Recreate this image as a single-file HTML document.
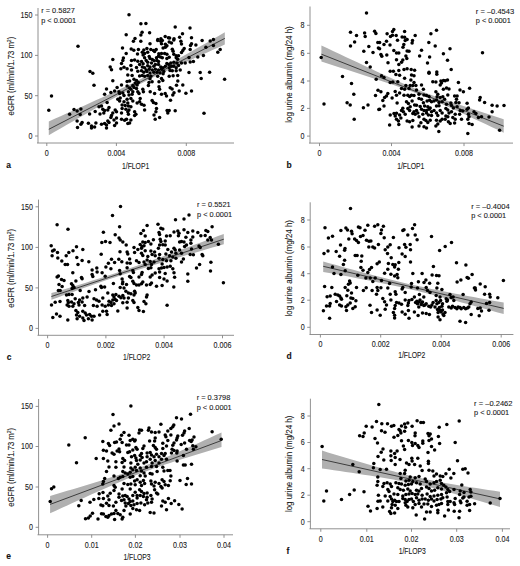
<!DOCTYPE html><html><head><meta charset="utf-8"><style>html,body{margin:0;padding:0;background:#fff;}svg{display:block} text{stroke:#1a1a1a;stroke-width:0.1px;paint-order:stroke}</style></head><body>
<svg width="520" height="566" viewBox="0 0 520 566" font-family='"Liberation Sans", sans-serif'>
<rect width="520" height="566" fill="#fff"/>
<g id="pa">
<path d="M48.80,121.40 L54.67,118.79 L60.53,116.17 L66.40,113.55 L72.27,110.93 L78.13,108.30 L84.00,105.66 L89.87,103.02 L95.73,100.36 L101.60,97.69 L107.47,95.00 L113.33,92.29 L119.20,89.55 L125.07,86.76 L130.93,83.93 L136.80,81.04 L142.67,78.08 L148.53,75.05 L154.40,71.95 L160.27,68.79 L166.13,65.58 L172.00,62.33 L177.87,59.05 L183.73,55.75 L189.60,52.43 L195.47,49.09 L201.33,45.75 L207.20,42.40 L213.07,39.04 L218.93,35.67 L224.80,32.30 L224.80,44.60 L218.93,47.22 L213.07,49.84 L207.20,52.47 L201.33,55.11 L195.47,57.76 L189.60,60.41 L183.73,63.08 L177.87,65.77 L172.00,68.48 L166.13,71.22 L160.27,74.00 L154.40,76.83 L148.53,79.72 L142.67,82.68 L136.80,85.71 L130.93,88.81 L125.07,91.97 L119.20,95.17 L113.33,98.42 L107.47,101.70 L101.60,105.00 L95.73,108.32 L89.87,111.65 L84.00,115.00 L78.13,118.35 L72.27,121.71 L66.40,125.08 L60.53,128.45 L54.67,131.82 L48.80,135.20Z" fill="#b0b0b0"/>
<line x1="48.8" y1="129.3" x2="224.8" y2="38.4" stroke="#303030" stroke-width="0.9"/>
<path d="M38,8 V143 M37,143 H234" stroke="#858585" stroke-width="0.9" fill="none"/>
<line x1="35" y1="136" x2="38" y2="136" stroke="#858585" stroke-width="0.9"/>
<text transform="translate(32.4,138.9) scale(0.83,1)" font-size="8.6" fill="#1a1a1a" text-anchor="end">0</text>
<line x1="35" y1="95.7" x2="38" y2="95.7" stroke="#858585" stroke-width="0.9"/>
<text transform="translate(32.4,98.60000000000001) scale(0.83,1)" font-size="8.6" fill="#1a1a1a" text-anchor="end">50</text>
<line x1="35" y1="55.4" x2="38" y2="55.4" stroke="#858585" stroke-width="0.9"/>
<text transform="translate(32.4,58.3) scale(0.83,1)" font-size="8.6" fill="#1a1a1a" text-anchor="end">100</text>
<line x1="35" y1="15" x2="38" y2="15" stroke="#858585" stroke-width="0.9"/>
<text transform="translate(32.4,17.9) scale(0.83,1)" font-size="8.6" fill="#1a1a1a" text-anchor="end">150</text>
<line x1="46.8" y1="143" x2="46.8" y2="146" stroke="#858585" stroke-width="0.9"/>
<text transform="translate(46.8,155.9) scale(0.83,1)" font-size="8.6" fill="#1a1a1a" text-anchor="middle">0</text>
<line x1="116.4" y1="143" x2="116.4" y2="146" stroke="#858585" stroke-width="0.9"/>
<text transform="translate(116.4,155.9) scale(0.83,1)" font-size="8.6" fill="#1a1a1a" text-anchor="middle">0.004</text>
<line x1="186.3" y1="143" x2="186.3" y2="146" stroke="#858585" stroke-width="0.9"/>
<text transform="translate(186.3,155.9) scale(0.83,1)" font-size="8.6" fill="#1a1a1a" text-anchor="middle">0.008</text>
<text x="122.0" y="168.6" font-size="8.2" fill="#1a1a1a" textLength="27.2" lengthAdjust="spacingAndGlyphs">1/FLOP1</text>
<text x="6.3" y="167.8" font-size="8.5" font-weight="bold" fill="#111">a</text>
<text transform="translate(13.8,115.6) rotate(-90)" font-size="8.3" fill="#1a1a1a" textLength="78.8" lengthAdjust="spacingAndGlyphs">eGFR (ml/min/1.73 m<tspan font-size="5.5" dy="-3">2</tspan><tspan dy="3">)</tspan></text>
<text x="41.2" y="13.4" font-size="7.3" fill="#1a1a1a" textLength="33.6" lengthAdjust="spacingAndGlyphs">r = 0.5827</text>
<text x="41.2" y="23.2" font-size="7.3" fill="#1a1a1a" textLength="35" lengthAdjust="spacingAndGlyphs">p &lt; 0.0001</text>
<g fill="#000"><circle cx="78.0" cy="46.2" r="1.75"/><circle cx="129.0" cy="14.8" r="1.75"/><circle cx="140.9" cy="23.8" r="1.75"/><circle cx="145.9" cy="23.5" r="1.75"/><circle cx="149.6" cy="32.8" r="1.75"/><circle cx="142.1" cy="32.2" r="1.75"/><circle cx="140.9" cy="35.0" r="1.75"/><circle cx="126.2" cy="34.8" r="1.75"/><circle cx="135.0" cy="38.5" r="1.75"/><circle cx="133.4" cy="41.2" r="1.75"/><circle cx="157.8" cy="39.4" r="1.75"/><circle cx="160.9" cy="38.8" r="1.75"/><circle cx="165.2" cy="36.5" r="1.75"/><circle cx="122.5" cy="48.1" r="1.75"/><circle cx="131.2" cy="49.0" r="1.75"/><circle cx="133.8" cy="50.2" r="1.75"/><circle cx="138.4" cy="49.4" r="1.75"/><circle cx="126.2" cy="53.5" r="1.75"/><circle cx="137.5" cy="54.0" r="1.75"/><circle cx="168.4" cy="37.8" r="1.75"/><circle cx="112.8" cy="59.4" r="1.75"/><circle cx="123.4" cy="58.1" r="1.75"/><circle cx="122.8" cy="60.6" r="1.75"/><circle cx="121.5" cy="63.5" r="1.75"/><circle cx="110.2" cy="66.9" r="1.75"/><circle cx="111.5" cy="69.8" r="1.75"/><circle cx="120.9" cy="68.8" r="1.75"/><circle cx="124.0" cy="67.2" r="1.75"/><circle cx="127.1" cy="68.8" r="1.75"/><circle cx="131.5" cy="60.6" r="1.75"/><circle cx="134.6" cy="60.0" r="1.75"/><circle cx="130.9" cy="65.6" r="1.75"/><circle cx="131.5" cy="70.0" r="1.75"/><circle cx="137.8" cy="61.2" r="1.75"/><circle cx="139.6" cy="64.4" r="1.75"/><circle cx="136.5" cy="67.5" r="1.75"/><circle cx="137.8" cy="71.2" r="1.75"/><circle cx="175.2" cy="26.9" r="1.75"/><circle cx="190.0" cy="27.9" r="1.75"/><circle cx="182.5" cy="33.8" r="1.75"/><circle cx="179.6" cy="37.2" r="1.75"/><circle cx="174.0" cy="38.8" r="1.75"/><circle cx="169.6" cy="38.1" r="1.75"/><circle cx="191.5" cy="37.8" r="1.75"/><circle cx="202.1" cy="40.6" r="1.75"/><circle cx="210.2" cy="41.0" r="1.75"/><circle cx="213.4" cy="39.4" r="1.75"/><circle cx="180.9" cy="41.2" r="1.75"/><circle cx="181.5" cy="44.0" r="1.75"/><circle cx="191.5" cy="43.8" r="1.75"/><circle cx="190.5" cy="45.6" r="1.75"/><circle cx="195.9" cy="45.0" r="1.75"/><circle cx="205.9" cy="47.2" r="1.75"/><circle cx="213.4" cy="45.6" r="1.75"/><circle cx="184.2" cy="48.5" r="1.75"/><circle cx="182.8" cy="50.6" r="1.75"/><circle cx="181.5" cy="52.5" r="1.75"/><circle cx="190.2" cy="49.4" r="1.75"/><circle cx="220.2" cy="49.4" r="1.75"/><circle cx="217.8" cy="52.2" r="1.75"/><circle cx="203.4" cy="55.6" r="1.75"/><circle cx="197.8" cy="56.9" r="1.75"/><circle cx="189.0" cy="57.5" r="1.75"/><circle cx="190.2" cy="61.9" r="1.75"/><circle cx="193.4" cy="61.5" r="1.75"/><circle cx="185.2" cy="63.1" r="1.75"/><circle cx="181.5" cy="63.1" r="1.75"/><circle cx="180.2" cy="70.0" r="1.75"/><circle cx="189.0" cy="72.5" r="1.75"/><circle cx="200.2" cy="72.5" r="1.75"/><circle cx="209.6" cy="72.2" r="1.75"/><circle cx="92.8" cy="73.2" r="1.75"/><circle cx="94.0" cy="85.2" r="1.75"/><circle cx="51.5" cy="96.1" r="1.75"/><circle cx="48.8" cy="110.2" r="1.75"/><circle cx="74.0" cy="109.5" r="1.75"/><circle cx="77.1" cy="111.1" r="1.75"/><circle cx="80.9" cy="109.0" r="1.75"/><circle cx="69.6" cy="114.2" r="1.75"/><circle cx="80.2" cy="114.5" r="1.75"/><circle cx="89.6" cy="114.0" r="1.75"/><circle cx="95.2" cy="111.5" r="1.75"/><circle cx="100.0" cy="114.0" r="1.75"/><circle cx="99.0" cy="106.8" r="1.75"/><circle cx="101.5" cy="106.1" r="1.75"/><circle cx="102.8" cy="109.2" r="1.75"/><circle cx="77.1" cy="121.1" r="1.75"/><circle cx="82.1" cy="122.4" r="1.75"/><circle cx="80.9" cy="124.2" r="1.75"/><circle cx="88.4" cy="123.2" r="1.75"/><circle cx="95.9" cy="123.0" r="1.75"/><circle cx="91.5" cy="126.1" r="1.75"/><circle cx="94.6" cy="127.0" r="1.75"/><circle cx="91.5" cy="128.0" r="1.75"/><circle cx="77.5" cy="127.4" r="1.75"/><circle cx="101.5" cy="124.2" r="1.75"/><circle cx="103.8" cy="113.0" r="1.75"/><circle cx="127.8" cy="74.9" r="1.75"/><circle cx="132.1" cy="75.5" r="1.75"/><circle cx="139.6" cy="76.1" r="1.75"/><circle cx="112.8" cy="80.8" r="1.75"/><circle cx="127.1" cy="81.5" r="1.75"/><circle cx="129.6" cy="81.1" r="1.75"/><circle cx="134.0" cy="79.2" r="1.75"/><circle cx="136.5" cy="80.5" r="1.75"/><circle cx="162.8" cy="80.5" r="1.75"/><circle cx="159.0" cy="81.8" r="1.75"/><circle cx="135.2" cy="83.0" r="1.75"/><circle cx="138.4" cy="82.4" r="1.75"/><circle cx="137.1" cy="84.9" r="1.75"/><circle cx="132.8" cy="85.5" r="1.75"/><circle cx="149.0" cy="82.4" r="1.75"/><circle cx="152.1" cy="81.8" r="1.75"/><circle cx="148.4" cy="85.5" r="1.75"/><circle cx="106.5" cy="89.0" r="1.75"/><circle cx="117.1" cy="87.4" r="1.75"/><circle cx="121.5" cy="84.9" r="1.75"/><circle cx="127.1" cy="86.1" r="1.75"/><circle cx="129.6" cy="88.0" r="1.75"/><circle cx="130.9" cy="89.2" r="1.75"/><circle cx="134.0" cy="87.4" r="1.75"/><circle cx="136.5" cy="88.6" r="1.75"/><circle cx="142.8" cy="89.2" r="1.75"/><circle cx="159.0" cy="86.8" r="1.75"/><circle cx="159.6" cy="89.2" r="1.75"/><circle cx="104.6" cy="94.2" r="1.75"/><circle cx="110.9" cy="92.4" r="1.75"/><circle cx="114.6" cy="91.1" r="1.75"/><circle cx="119.0" cy="91.8" r="1.75"/><circle cx="119.6" cy="93.6" r="1.75"/><circle cx="122.8" cy="93.0" r="1.75"/><circle cx="124.0" cy="95.5" r="1.75"/><circle cx="128.4" cy="91.8" r="1.75"/><circle cx="132.8" cy="91.8" r="1.75"/><circle cx="132.1" cy="94.2" r="1.75"/><circle cx="129.0" cy="94.9" r="1.75"/><circle cx="137.8" cy="91.8" r="1.75"/><circle cx="139.0" cy="93.6" r="1.75"/><circle cx="143.4" cy="91.8" r="1.75"/><circle cx="150.2" cy="91.8" r="1.75"/><circle cx="154.6" cy="93.6" r="1.75"/><circle cx="161.5" cy="94.2" r="1.75"/><circle cx="165.2" cy="93.6" r="1.75"/><circle cx="166.5" cy="96.1" r="1.75"/><circle cx="107.1" cy="102.4" r="1.75"/><circle cx="117.8" cy="99.2" r="1.75"/><circle cx="120.2" cy="98.0" r="1.75"/><circle cx="119.6" cy="101.1" r="1.75"/><circle cx="124.0" cy="101.8" r="1.75"/><circle cx="127.1" cy="99.2" r="1.75"/><circle cx="130.9" cy="98.6" r="1.75"/><circle cx="132.8" cy="101.1" r="1.75"/><circle cx="127.8" cy="103.0" r="1.75"/><circle cx="122.1" cy="104.9" r="1.75"/><circle cx="125.2" cy="105.5" r="1.75"/><circle cx="128.4" cy="106.1" r="1.75"/><circle cx="137.1" cy="103.0" r="1.75"/><circle cx="139.6" cy="101.8" r="1.75"/><circle cx="140.2" cy="98.6" r="1.75"/><circle cx="141.5" cy="104.2" r="1.75"/><circle cx="144.0" cy="105.2" r="1.75"/><circle cx="152.1" cy="100.5" r="1.75"/><circle cx="153.4" cy="102.4" r="1.75"/><circle cx="155.9" cy="103.6" r="1.75"/><circle cx="109.0" cy="107.4" r="1.75"/><circle cx="107.8" cy="109.9" r="1.75"/><circle cx="104.6" cy="110.5" r="1.75"/><circle cx="115.2" cy="109.9" r="1.75"/><circle cx="112.8" cy="113.0" r="1.75"/><circle cx="116.5" cy="111.8" r="1.75"/><circle cx="122.1" cy="108.6" r="1.75"/><circle cx="121.5" cy="113.0" r="1.75"/><circle cx="125.9" cy="109.2" r="1.75"/><circle cx="129.0" cy="109.9" r="1.75"/><circle cx="130.9" cy="106.8" r="1.75"/><circle cx="127.8" cy="111.8" r="1.75"/><circle cx="134.6" cy="111.8" r="1.75"/><circle cx="135.9" cy="114.2" r="1.75"/><circle cx="144.6" cy="109.9" r="1.75"/><circle cx="156.5" cy="108.6" r="1.75"/><circle cx="155.9" cy="111.8" r="1.75"/><circle cx="167.1" cy="110.5" r="1.75"/><circle cx="167.8" cy="113.0" r="1.75"/><circle cx="111.5" cy="115.5" r="1.75"/><circle cx="110.9" cy="117.4" r="1.75"/><circle cx="114.0" cy="119.9" r="1.75"/><circle cx="116.5" cy="118.0" r="1.75"/><circle cx="121.5" cy="119.2" r="1.75"/><circle cx="124.6" cy="120.2" r="1.75"/><circle cx="126.5" cy="119.2" r="1.75"/><circle cx="130.9" cy="119.9" r="1.75"/><circle cx="134.6" cy="115.5" r="1.75"/><circle cx="128.4" cy="114.2" r="1.75"/><circle cx="154.0" cy="114.9" r="1.75"/><circle cx="155.2" cy="119.2" r="1.75"/><circle cx="159.6" cy="117.4" r="1.75"/><circle cx="107.8" cy="121.1" r="1.75"/><circle cx="109.0" cy="122.4" r="1.75"/><circle cx="104.6" cy="123.6" r="1.75"/><circle cx="106.5" cy="124.9" r="1.75"/><circle cx="116.5" cy="123.0" r="1.75"/><circle cx="114.6" cy="125.5" r="1.75"/><circle cx="127.8" cy="123.6" r="1.75"/><circle cx="129.6" cy="123.0" r="1.75"/><circle cx="106.5" cy="128.0" r="1.75"/><circle cx="201.2" cy="78.6" r="1.75"/><circle cx="224.6" cy="79.2" r="1.75"/><circle cx="177.8" cy="81.1" r="1.75"/><circle cx="176.5" cy="85.2" r="1.75"/><circle cx="182.8" cy="84.9" r="1.75"/><circle cx="170.2" cy="87.8" r="1.75"/><circle cx="172.1" cy="89.0" r="1.75"/><circle cx="179.2" cy="91.1" r="1.75"/><circle cx="174.0" cy="92.8" r="1.75"/><circle cx="172.8" cy="94.9" r="1.75"/><circle cx="185.9" cy="93.2" r="1.75"/><circle cx="191.5" cy="90.9" r="1.75"/><circle cx="170.5" cy="100.2" r="1.75"/><circle cx="169.2" cy="110.5" r="1.75"/><circle cx="175.2" cy="110.8" r="1.75"/><circle cx="204.0" cy="113.2" r="1.75"/><circle cx="90.0" cy="71.5" r="1.75"/><circle cx="140.8" cy="41.2" r="1.75"/><circle cx="157.7" cy="40.4" r="1.75"/><circle cx="160.8" cy="41.2" r="1.75"/><circle cx="162.3" cy="40.4" r="1.75"/><circle cx="169.2" cy="41.9" r="1.75"/><circle cx="171.5" cy="43.1" r="1.75"/><circle cx="150.0" cy="43.8" r="1.75"/><circle cx="161.5" cy="43.8" r="1.75"/><circle cx="165.4" cy="44.2" r="1.75"/><circle cx="166.9" cy="45.8" r="1.75"/><circle cx="163.1" cy="48.1" r="1.75"/><circle cx="165.4" cy="47.3" r="1.75"/><circle cx="173.8" cy="40.0" r="1.75"/><circle cx="143.8" cy="50.0" r="1.75"/><circle cx="146.9" cy="48.5" r="1.75"/><circle cx="150.8" cy="49.6" r="1.75"/><circle cx="153.5" cy="50.4" r="1.75"/><circle cx="156.2" cy="49.6" r="1.75"/><circle cx="142.3" cy="52.3" r="1.75"/><circle cx="144.6" cy="53.5" r="1.75"/><circle cx="147.7" cy="52.3" r="1.75"/><circle cx="154.6" cy="51.5" r="1.75"/><circle cx="172.3" cy="49.2" r="1.75"/><circle cx="173.1" cy="51.2" r="1.75"/><circle cx="158.8" cy="53.8" r="1.75"/><circle cx="161.5" cy="53.5" r="1.75"/><circle cx="164.6" cy="53.5" r="1.75"/><circle cx="166.9" cy="54.2" r="1.75"/><circle cx="173.8" cy="54.2" r="1.75"/><circle cx="176.2" cy="55.8" r="1.75"/><circle cx="178.5" cy="55.8" r="1.75"/><circle cx="143.1" cy="55.0" r="1.75"/><circle cx="149.2" cy="56.5" r="1.75"/><circle cx="144.6" cy="57.7" r="1.75"/><circle cx="150.0" cy="58.5" r="1.75"/><circle cx="156.5" cy="57.7" r="1.75"/><circle cx="158.5" cy="56.2" r="1.75"/><circle cx="160.4" cy="56.9" r="1.75"/><circle cx="162.3" cy="57.7" r="1.75"/><circle cx="169.2" cy="57.3" r="1.75"/><circle cx="166.9" cy="58.5" r="1.75"/><circle cx="176.2" cy="57.7" r="1.75"/><circle cx="177.7" cy="59.2" r="1.75"/><circle cx="141.5" cy="61.5" r="1.75"/><circle cx="146.2" cy="60.4" r="1.75"/><circle cx="147.7" cy="62.3" r="1.75"/><circle cx="152.3" cy="59.6" r="1.75"/><circle cx="154.2" cy="60.8" r="1.75"/><circle cx="156.9" cy="60.4" r="1.75"/><circle cx="158.5" cy="61.5" r="1.75"/><circle cx="151.5" cy="63.1" r="1.75"/><circle cx="166.9" cy="63.5" r="1.75"/><circle cx="168.8" cy="64.6" r="1.75"/><circle cx="170.8" cy="63.1" r="1.75"/><circle cx="173.8" cy="62.3" r="1.75"/><circle cx="176.9" cy="63.1" r="1.75"/><circle cx="143.1" cy="63.8" r="1.75"/><circle cx="142.3" cy="66.9" r="1.75"/><circle cx="144.6" cy="67.7" r="1.75"/><circle cx="147.7" cy="65.8" r="1.75"/><circle cx="150.0" cy="66.9" r="1.75"/><circle cx="153.8" cy="66.2" r="1.75"/><circle cx="155.4" cy="64.6" r="1.75"/><circle cx="158.5" cy="64.6" r="1.75"/><circle cx="160.8" cy="66.9" r="1.75"/><circle cx="163.1" cy="67.7" r="1.75"/><circle cx="165.4" cy="66.2" r="1.75"/><circle cx="169.2" cy="67.7" r="1.75"/><circle cx="171.5" cy="66.2" r="1.75"/><circle cx="173.8" cy="66.2" r="1.75"/><circle cx="176.2" cy="67.7" r="1.75"/><circle cx="178.5" cy="65.4" r="1.75"/><circle cx="141.5" cy="70.8" r="1.75"/><circle cx="146.2" cy="70.0" r="1.75"/><circle cx="149.2" cy="69.2" r="1.75"/><circle cx="152.3" cy="70.0" r="1.75"/><circle cx="155.4" cy="69.2" r="1.75"/><circle cx="158.5" cy="70.0" r="1.75"/><circle cx="161.5" cy="69.2" r="1.75"/><circle cx="163.8" cy="71.5" r="1.75"/><circle cx="170.0" cy="70.4" r="1.75"/><circle cx="172.3" cy="70.8" r="1.75"/><circle cx="176.2" cy="70.8" r="1.75"/><circle cx="143.8" cy="72.3" r="1.75"/><circle cx="146.9" cy="71.5" r="1.75"/><circle cx="150.0" cy="73.1" r="1.75"/><circle cx="153.8" cy="72.3" r="1.75"/><circle cx="156.9" cy="72.3" r="1.75"/><circle cx="160.0" cy="73.1" r="1.75"/><circle cx="163.1" cy="73.8" r="1.75"/><circle cx="147.7" cy="75.4" r="1.75"/><circle cx="150.8" cy="76.2" r="1.75"/><circle cx="144.6" cy="76.2" r="1.75"/><circle cx="142.3" cy="75.4" r="1.75"/><circle cx="169.2" cy="76.2" r="1.75"/><circle cx="173.1" cy="75.8" r="1.75"/><circle cx="177.7" cy="75.4" r="1.75"/><circle cx="150.0" cy="78.8" r="1.75"/><circle cx="157.7" cy="76.2" r="1.75"/><circle cx="161.5" cy="78.5" r="1.75"/></g>
</g>
<g id="pb">
<path d="M321.40,45.40 L327.48,48.28 L333.55,51.15 L339.63,54.02 L345.71,56.89 L351.78,59.75 L357.86,62.61 L363.94,65.47 L370.01,68.31 L376.09,71.15 L382.17,73.97 L388.24,76.77 L394.32,79.55 L400.40,82.29 L406.47,84.98 L412.55,87.59 L418.63,90.11 L424.70,92.51 L430.78,94.81 L436.86,97.02 L442.93,99.16 L449.01,101.25 L455.09,103.30 L461.16,105.32 L467.24,107.33 L473.32,109.33 L479.39,111.32 L485.47,113.29 L491.55,115.27 L497.62,117.24 L503.70,119.20 L503.70,132.70 L497.62,129.83 L491.55,126.97 L485.47,124.11 L479.39,121.25 L473.32,118.40 L467.24,115.57 L461.16,112.74 L455.09,109.94 L449.01,107.15 L442.93,104.41 L436.86,101.71 L430.78,99.09 L424.70,96.55 L418.63,94.13 L412.55,91.81 L406.47,89.59 L400.40,87.44 L394.32,85.35 L388.24,83.29 L382.17,81.26 L376.09,79.25 L370.01,77.25 L363.94,75.27 L357.86,73.29 L351.78,71.31 L345.71,69.34 L339.63,67.38 L333.55,65.42 L327.48,63.46 L321.40,61.50Z" fill="#b0b0b0"/>
<line x1="321.4" y1="54.2" x2="503.7" y2="126.2" stroke="#303030" stroke-width="0.9"/>
<path d="M310,6.5 V143.1 M309,143.1 H513" stroke="#858585" stroke-width="0.9" fill="none"/>
<line x1="307" y1="136.1" x2="310" y2="136.1" stroke="#858585" stroke-width="0.9"/>
<text transform="translate(304.4,139.0) scale(0.83,1)" font-size="8.6" fill="#1a1a1a" text-anchor="end">0</text>
<line x1="307" y1="108.4" x2="310" y2="108.4" stroke="#858585" stroke-width="0.9"/>
<text transform="translate(304.4,111.30000000000001) scale(0.83,1)" font-size="8.6" fill="#1a1a1a" text-anchor="end">2</text>
<line x1="307" y1="81" x2="310" y2="81" stroke="#858585" stroke-width="0.9"/>
<text transform="translate(304.4,83.9) scale(0.83,1)" font-size="8.6" fill="#1a1a1a" text-anchor="end">4</text>
<line x1="307" y1="53.3" x2="310" y2="53.3" stroke="#858585" stroke-width="0.9"/>
<text transform="translate(304.4,56.199999999999996) scale(0.83,1)" font-size="8.6" fill="#1a1a1a" text-anchor="end">6</text>
<line x1="307" y1="25.3" x2="310" y2="25.3" stroke="#858585" stroke-width="0.9"/>
<text transform="translate(304.4,28.2) scale(0.83,1)" font-size="8.6" fill="#1a1a1a" text-anchor="end">8</text>
<line x1="319.5" y1="143.1" x2="319.5" y2="146.1" stroke="#858585" stroke-width="0.9"/>
<text transform="translate(319.5,156.0) scale(0.83,1)" font-size="8.6" fill="#1a1a1a" text-anchor="middle">0</text>
<line x1="391.5" y1="143.1" x2="391.5" y2="146.1" stroke="#858585" stroke-width="0.9"/>
<text transform="translate(391.5,156.0) scale(0.83,1)" font-size="8.6" fill="#1a1a1a" text-anchor="middle">0.004</text>
<line x1="464" y1="143.1" x2="464" y2="146.1" stroke="#858585" stroke-width="0.9"/>
<text transform="translate(464,156.0) scale(0.83,1)" font-size="8.6" fill="#1a1a1a" text-anchor="middle">0.008</text>
<text x="397.2" y="168.6" font-size="8.2" fill="#1a1a1a" textLength="27.2" lengthAdjust="spacingAndGlyphs">1/FLOP1</text>
<text x="286.5" y="167.8" font-size="8.5" font-weight="bold" fill="#111">b</text>
<text transform="translate(291.7,122.7) rotate(-90)" font-size="8.3" fill="#1a1a1a" textLength="96.4" lengthAdjust="spacingAndGlyphs">log urine albumin (mg/24 h)</text>
<text x="475.8" y="13.5" font-size="7.3" fill="#1a1a1a" textLength="38.4" lengthAdjust="spacingAndGlyphs">r = –0.4543</text>
<text x="475.8" y="23.3" font-size="7.3" fill="#1a1a1a" textLength="35" lengthAdjust="spacingAndGlyphs">p &lt; 0.0001</text>
<g fill="#000"><circle cx="366.5" cy="13.1" r="1.75"/><circle cx="350.5" cy="32.2" r="1.75"/><circle cx="356.5" cy="35.6" r="1.75"/><circle cx="364.6" cy="33.1" r="1.75"/><circle cx="365.2" cy="36.5" r="1.75"/><circle cx="374.6" cy="31.2" r="1.75"/><circle cx="375.9" cy="33.5" r="1.75"/><circle cx="354.6" cy="41.9" r="1.75"/><circle cx="350.5" cy="46.0" r="1.75"/><circle cx="368.8" cy="46.5" r="1.75"/><circle cx="377.8" cy="42.5" r="1.75"/><circle cx="378.4" cy="48.1" r="1.75"/><circle cx="363.8" cy="51.2" r="1.75"/><circle cx="373.0" cy="52.5" r="1.75"/><circle cx="321.2" cy="57.5" r="1.75"/><circle cx="366.5" cy="62.5" r="1.75"/><circle cx="370.2" cy="66.9" r="1.75"/><circle cx="393.8" cy="29.4" r="1.75"/><circle cx="392.5" cy="31.5" r="1.75"/><circle cx="387.1" cy="33.8" r="1.75"/><circle cx="404.6" cy="31.5" r="1.75"/><circle cx="415.2" cy="35.6" r="1.75"/><circle cx="430.9" cy="33.8" r="1.75"/><circle cx="436.5" cy="30.2" r="1.75"/><circle cx="390.5" cy="36.5" r="1.75"/><circle cx="392.5" cy="35.2" r="1.75"/><circle cx="396.2" cy="35.6" r="1.75"/><circle cx="402.1" cy="36.9" r="1.75"/><circle cx="404.6" cy="37.2" r="1.75"/><circle cx="407.1" cy="39.4" r="1.75"/><circle cx="405.2" cy="40.6" r="1.75"/><circle cx="397.5" cy="40.2" r="1.75"/><circle cx="412.5" cy="40.6" r="1.75"/><circle cx="412.1" cy="43.1" r="1.75"/><circle cx="386.5" cy="41.2" r="1.75"/><circle cx="384.0" cy="44.4" r="1.75"/><circle cx="390.0" cy="45.0" r="1.75"/><circle cx="379.6" cy="42.5" r="1.75"/><circle cx="403.8" cy="44.4" r="1.75"/><circle cx="403.0" cy="47.2" r="1.75"/><circle cx="379.6" cy="48.8" r="1.75"/><circle cx="428.8" cy="42.5" r="1.75"/><circle cx="435.2" cy="46.0" r="1.75"/><circle cx="393.8" cy="50.6" r="1.75"/><circle cx="396.5" cy="53.1" r="1.75"/><circle cx="398.8" cy="53.1" r="1.75"/><circle cx="407.1" cy="51.0" r="1.75"/><circle cx="409.0" cy="51.2" r="1.75"/><circle cx="421.5" cy="50.2" r="1.75"/><circle cx="443.4" cy="53.8" r="1.75"/><circle cx="380.9" cy="54.4" r="1.75"/><circle cx="381.8" cy="56.2" r="1.75"/><circle cx="386.8" cy="55.0" r="1.75"/><circle cx="405.9" cy="56.0" r="1.75"/><circle cx="406.8" cy="58.5" r="1.75"/><circle cx="419.6" cy="56.0" r="1.75"/><circle cx="429.6" cy="56.9" r="1.75"/><circle cx="396.5" cy="59.8" r="1.75"/><circle cx="402.8" cy="60.0" r="1.75"/><circle cx="401.5" cy="62.2" r="1.75"/><circle cx="398.8" cy="64.4" r="1.75"/><circle cx="388.0" cy="62.8" r="1.75"/><circle cx="427.5" cy="63.1" r="1.75"/><circle cx="390.2" cy="71.2" r="1.75"/><circle cx="393.4" cy="71.2" r="1.75"/><circle cx="398.8" cy="70.6" r="1.75"/><circle cx="404.0" cy="69.4" r="1.75"/><circle cx="407.1" cy="68.8" r="1.75"/><circle cx="411.2" cy="69.4" r="1.75"/><circle cx="414.6" cy="70.2" r="1.75"/><circle cx="429.0" cy="72.2" r="1.75"/><circle cx="436.8" cy="71.9" r="1.75"/><circle cx="450.0" cy="48.8" r="1.75"/><circle cx="447.5" cy="60.2" r="1.75"/><circle cx="451.2" cy="69.6" r="1.75"/><circle cx="482.5" cy="52.8" r="1.75"/><circle cx="342.5" cy="76.5" r="1.75"/><circle cx="351.5" cy="83.6" r="1.75"/><circle cx="376.2" cy="79.2" r="1.75"/><circle cx="378.0" cy="90.2" r="1.75"/><circle cx="375.5" cy="95.5" r="1.75"/><circle cx="353.8" cy="94.2" r="1.75"/><circle cx="324.0" cy="104.0" r="1.75"/><circle cx="347.1" cy="102.8" r="1.75"/><circle cx="350.2" cy="104.9" r="1.75"/><circle cx="363.4" cy="107.8" r="1.75"/><circle cx="368.0" cy="104.9" r="1.75"/><circle cx="378.8" cy="109.5" r="1.75"/><circle cx="354.2" cy="119.2" r="1.75"/><circle cx="381.5" cy="75.8" r="1.75"/><circle cx="384.0" cy="77.4" r="1.75"/><circle cx="395.9" cy="74.5" r="1.75"/><circle cx="399.6" cy="75.2" r="1.75"/><circle cx="411.5" cy="74.9" r="1.75"/><circle cx="414.0" cy="75.8" r="1.75"/><circle cx="429.0" cy="73.2" r="1.75"/><circle cx="436.8" cy="74.2" r="1.75"/><circle cx="404.6" cy="78.2" r="1.75"/><circle cx="410.9" cy="79.9" r="1.75"/><circle cx="414.0" cy="82.4" r="1.75"/><circle cx="432.8" cy="81.8" r="1.75"/><circle cx="435.9" cy="82.0" r="1.75"/><circle cx="440.9" cy="81.1" r="1.75"/><circle cx="443.5" cy="80.5" r="1.75"/><circle cx="390.2" cy="82.4" r="1.75"/><circle cx="392.8" cy="82.0" r="1.75"/><circle cx="397.8" cy="81.8" r="1.75"/><circle cx="405.9" cy="85.5" r="1.75"/><circle cx="410.2" cy="85.5" r="1.75"/><circle cx="412.8" cy="85.5" r="1.75"/><circle cx="415.9" cy="85.5" r="1.75"/><circle cx="421.5" cy="84.9" r="1.75"/><circle cx="440.2" cy="84.9" r="1.75"/><circle cx="441.5" cy="83.0" r="1.75"/><circle cx="401.5" cy="88.6" r="1.75"/><circle cx="404.6" cy="89.2" r="1.75"/><circle cx="409.0" cy="88.6" r="1.75"/><circle cx="416.5" cy="89.9" r="1.75"/><circle cx="423.4" cy="89.2" r="1.75"/><circle cx="443.4" cy="89.2" r="1.75"/><circle cx="380.9" cy="91.8" r="1.75"/><circle cx="395.2" cy="91.5" r="1.75"/><circle cx="399.6" cy="93.0" r="1.75"/><circle cx="387.8" cy="93.6" r="1.75"/><circle cx="386.5" cy="96.1" r="1.75"/><circle cx="384.6" cy="97.4" r="1.75"/><circle cx="392.1" cy="98.0" r="1.75"/><circle cx="396.5" cy="95.2" r="1.75"/><circle cx="404.0" cy="95.2" r="1.75"/><circle cx="407.8" cy="95.2" r="1.75"/><circle cx="409.6" cy="96.5" r="1.75"/><circle cx="411.5" cy="95.2" r="1.75"/><circle cx="414.0" cy="95.5" r="1.75"/><circle cx="419.0" cy="94.2" r="1.75"/><circle cx="424.0" cy="94.9" r="1.75"/><circle cx="426.5" cy="95.5" r="1.75"/><circle cx="429.0" cy="96.5" r="1.75"/><circle cx="435.9" cy="91.8" r="1.75"/><circle cx="437.8" cy="94.2" r="1.75"/><circle cx="437.1" cy="96.8" r="1.75"/><circle cx="440.2" cy="97.4" r="1.75"/><circle cx="442.8" cy="96.8" r="1.75"/><circle cx="382.8" cy="100.5" r="1.75"/><circle cx="397.1" cy="103.0" r="1.75"/><circle cx="406.5" cy="101.8" r="1.75"/><circle cx="408.4" cy="103.6" r="1.75"/><circle cx="412.1" cy="101.1" r="1.75"/><circle cx="414.6" cy="104.9" r="1.75"/><circle cx="416.5" cy="105.2" r="1.75"/><circle cx="419.0" cy="98.6" r="1.75"/><circle cx="421.5" cy="99.2" r="1.75"/><circle cx="423.4" cy="102.8" r="1.75"/><circle cx="427.1" cy="101.1" r="1.75"/><circle cx="429.6" cy="100.2" r="1.75"/><circle cx="431.5" cy="101.8" r="1.75"/><circle cx="434.0" cy="101.1" r="1.75"/><circle cx="436.5" cy="99.9" r="1.75"/><circle cx="439.0" cy="102.4" r="1.75"/><circle cx="442.1" cy="101.8" r="1.75"/><circle cx="384.0" cy="106.1" r="1.75"/><circle cx="379.6" cy="109.2" r="1.75"/><circle cx="410.2" cy="106.8" r="1.75"/><circle cx="420.2" cy="106.5" r="1.75"/><circle cx="424.6" cy="106.1" r="1.75"/><circle cx="427.8" cy="106.8" r="1.75"/><circle cx="430.2" cy="108.0" r="1.75"/><circle cx="436.5" cy="106.1" r="1.75"/><circle cx="439.0" cy="105.8" r="1.75"/><circle cx="402.8" cy="108.2" r="1.75"/><circle cx="401.5" cy="110.5" r="1.75"/><circle cx="403.4" cy="111.8" r="1.75"/><circle cx="407.8" cy="108.6" r="1.75"/><circle cx="409.6" cy="110.5" r="1.75"/><circle cx="414.0" cy="111.8" r="1.75"/><circle cx="416.5" cy="110.5" r="1.75"/><circle cx="417.8" cy="113.0" r="1.75"/><circle cx="415.2" cy="114.2" r="1.75"/><circle cx="419.0" cy="116.8" r="1.75"/><circle cx="421.5" cy="109.2" r="1.75"/><circle cx="424.0" cy="110.5" r="1.75"/><circle cx="426.5" cy="110.5" r="1.75"/><circle cx="429.0" cy="109.2" r="1.75"/><circle cx="431.5" cy="111.8" r="1.75"/><circle cx="434.0" cy="110.5" r="1.75"/><circle cx="436.5" cy="113.0" r="1.75"/><circle cx="440.2" cy="110.5" r="1.75"/><circle cx="442.1" cy="113.0" r="1.75"/><circle cx="390.2" cy="114.9" r="1.75"/><circle cx="394.0" cy="113.6" r="1.75"/><circle cx="396.5" cy="113.2" r="1.75"/><circle cx="395.2" cy="116.1" r="1.75"/><circle cx="399.6" cy="114.9" r="1.75"/><circle cx="405.2" cy="114.2" r="1.75"/><circle cx="412.8" cy="113.6" r="1.75"/><circle cx="422.8" cy="114.2" r="1.75"/><circle cx="426.5" cy="113.0" r="1.75"/><circle cx="428.4" cy="114.9" r="1.75"/><circle cx="431.5" cy="115.5" r="1.75"/><circle cx="437.8" cy="115.5" r="1.75"/><circle cx="396.5" cy="119.2" r="1.75"/><circle cx="400.9" cy="118.0" r="1.75"/><circle cx="398.4" cy="121.1" r="1.75"/><circle cx="407.1" cy="121.1" r="1.75"/><circle cx="409.6" cy="121.8" r="1.75"/><circle cx="412.8" cy="120.5" r="1.75"/><circle cx="424.0" cy="119.2" r="1.75"/><circle cx="425.9" cy="120.5" r="1.75"/><circle cx="427.8" cy="122.4" r="1.75"/><circle cx="430.2" cy="120.2" r="1.75"/><circle cx="436.5" cy="120.2" r="1.75"/><circle cx="440.2" cy="121.1" r="1.75"/><circle cx="442.1" cy="119.2" r="1.75"/><circle cx="389.6" cy="124.9" r="1.75"/><circle cx="398.8" cy="124.5" r="1.75"/><circle cx="412.1" cy="127.0" r="1.75"/><circle cx="419.0" cy="126.1" r="1.75"/><circle cx="420.9" cy="122.8" r="1.75"/><circle cx="424.0" cy="126.8" r="1.75"/><circle cx="426.5" cy="128.0" r="1.75"/><circle cx="435.9" cy="126.1" r="1.75"/><circle cx="437.8" cy="124.0" r="1.75"/><circle cx="438.8" cy="131.5" r="1.75"/><circle cx="445.2" cy="80.8" r="1.75"/><circle cx="447.5" cy="79.9" r="1.75"/><circle cx="458.4" cy="82.4" r="1.75"/><circle cx="446.5" cy="88.0" r="1.75"/><circle cx="449.0" cy="89.0" r="1.75"/><circle cx="460.0" cy="89.9" r="1.75"/><circle cx="463.4" cy="91.8" r="1.75"/><circle cx="469.6" cy="88.2" r="1.75"/><circle cx="447.8" cy="94.9" r="1.75"/><circle cx="454.6" cy="96.1" r="1.75"/><circle cx="457.1" cy="96.1" r="1.75"/><circle cx="444.6" cy="99.2" r="1.75"/><circle cx="456.5" cy="99.2" r="1.75"/><circle cx="480.2" cy="97.4" r="1.75"/><circle cx="479.6" cy="99.9" r="1.75"/><circle cx="484.6" cy="102.4" r="1.75"/><circle cx="455.9" cy="102.4" r="1.75"/><circle cx="459.0" cy="102.8" r="1.75"/><circle cx="450.9" cy="103.0" r="1.75"/><circle cx="451.5" cy="105.5" r="1.75"/><circle cx="446.5" cy="104.2" r="1.75"/><circle cx="467.1" cy="103.2" r="1.75"/><circle cx="492.1" cy="105.2" r="1.75"/><circle cx="497.1" cy="106.1" r="1.75"/><circle cx="504.0" cy="105.5" r="1.75"/><circle cx="445.9" cy="108.6" r="1.75"/><circle cx="447.8" cy="109.9" r="1.75"/><circle cx="453.4" cy="108.0" r="1.75"/><circle cx="457.1" cy="106.8" r="1.75"/><circle cx="460.2" cy="110.5" r="1.75"/><circle cx="462.8" cy="111.1" r="1.75"/><circle cx="467.1" cy="109.2" r="1.75"/><circle cx="468.4" cy="108.0" r="1.75"/><circle cx="474.0" cy="111.8" r="1.75"/><circle cx="475.9" cy="113.6" r="1.75"/><circle cx="492.1" cy="111.8" r="1.75"/><circle cx="449.0" cy="113.0" r="1.75"/><circle cx="451.5" cy="111.8" r="1.75"/><circle cx="455.2" cy="114.2" r="1.75"/><circle cx="459.6" cy="114.2" r="1.75"/><circle cx="468.4" cy="114.2" r="1.75"/><circle cx="469.0" cy="116.8" r="1.75"/><circle cx="445.9" cy="116.1" r="1.75"/><circle cx="447.8" cy="116.8" r="1.75"/><circle cx="452.8" cy="117.4" r="1.75"/><circle cx="455.2" cy="119.2" r="1.75"/><circle cx="461.5" cy="119.2" r="1.75"/><circle cx="467.8" cy="119.2" r="1.75"/><circle cx="478.4" cy="117.4" r="1.75"/><circle cx="481.5" cy="116.8" r="1.75"/><circle cx="489.0" cy="117.0" r="1.75"/><circle cx="445.2" cy="119.2" r="1.75"/><circle cx="448.4" cy="121.8" r="1.75"/><circle cx="450.2" cy="123.6" r="1.75"/><circle cx="454.6" cy="123.0" r="1.75"/><circle cx="469.0" cy="123.6" r="1.75"/><circle cx="472.1" cy="124.5" r="1.75"/><circle cx="499.6" cy="130.2" r="1.75"/><circle cx="467.8" cy="133.6" r="1.75"/></g>
</g>
<g id="pc">
<path d="M51.40,293.10 L57.15,291.38 L62.89,289.66 L68.64,287.92 L74.39,286.17 L80.13,284.41 L85.88,282.64 L91.63,280.84 L97.37,279.02 L103.12,277.18 L108.87,275.31 L114.61,273.40 L120.36,271.47 L126.11,269.51 L131.85,267.52 L137.60,265.50 L143.35,263.46 L149.09,261.41 L154.84,259.34 L160.59,257.25 L166.33,255.16 L172.08,253.06 L177.83,250.95 L183.57,248.83 L189.32,246.71 L195.07,244.58 L200.81,242.45 L206.56,240.32 L212.31,238.18 L218.05,236.04 L223.80,233.90 L223.80,244.20 L218.05,245.89 L212.31,247.57 L206.56,249.26 L200.81,250.96 L195.07,252.65 L189.32,254.35 L183.57,256.06 L177.83,257.77 L172.08,259.48 L166.33,261.21 L160.59,262.94 L154.84,264.68 L149.09,266.44 L143.35,268.21 L137.60,270.00 L131.85,271.81 L126.11,273.65 L120.36,275.51 L114.61,277.40 L108.87,279.33 L103.12,281.28 L97.37,283.26 L91.63,285.27 L85.88,287.30 L80.13,289.35 L74.39,291.42 L68.64,293.50 L62.89,295.59 L57.15,297.69 L51.40,299.80Z" fill="#b0b0b0"/>
<line x1="51.4" y1="296.5" x2="223.8" y2="239.2" stroke="#303030" stroke-width="0.9"/>
<path d="M38.5,199.6 V335.3 M37.5,335.3 H234" stroke="#858585" stroke-width="0.9" fill="none"/>
<line x1="35.5" y1="328.4" x2="38.5" y2="328.4" stroke="#858585" stroke-width="0.9"/>
<text transform="translate(32.9,331.29999999999995) scale(0.83,1)" font-size="8.6" fill="#1a1a1a" text-anchor="end">0</text>
<line x1="35.5" y1="287.9" x2="38.5" y2="287.9" stroke="#858585" stroke-width="0.9"/>
<text transform="translate(32.9,290.79999999999995) scale(0.83,1)" font-size="8.6" fill="#1a1a1a" text-anchor="end">50</text>
<line x1="35.5" y1="247.4" x2="38.5" y2="247.4" stroke="#858585" stroke-width="0.9"/>
<text transform="translate(32.9,250.3) scale(0.83,1)" font-size="8.6" fill="#1a1a1a" text-anchor="end">100</text>
<line x1="35.5" y1="206.8" x2="38.5" y2="206.8" stroke="#858585" stroke-width="0.9"/>
<text transform="translate(32.9,209.70000000000002) scale(0.83,1)" font-size="8.6" fill="#1a1a1a" text-anchor="end">150</text>
<line x1="47.6" y1="335.3" x2="47.6" y2="338.3" stroke="#858585" stroke-width="0.9"/>
<text transform="translate(47.6,348.2) scale(0.83,1)" font-size="8.6" fill="#1a1a1a" text-anchor="middle">0</text>
<line x1="105.9" y1="335.3" x2="105.9" y2="338.3" stroke="#858585" stroke-width="0.9"/>
<text transform="translate(105.9,348.2) scale(0.83,1)" font-size="8.6" fill="#1a1a1a" text-anchor="middle">0.002</text>
<line x1="164.1" y1="335.3" x2="164.1" y2="338.3" stroke="#858585" stroke-width="0.9"/>
<text transform="translate(164.1,348.2) scale(0.83,1)" font-size="8.6" fill="#1a1a1a" text-anchor="middle">0.004</text>
<line x1="222.5" y1="335.3" x2="222.5" y2="338.3" stroke="#858585" stroke-width="0.9"/>
<text transform="translate(222.5,348.2) scale(0.83,1)" font-size="8.6" fill="#1a1a1a" text-anchor="middle">0.006</text>
<text x="123.0" y="360" font-size="8.2" fill="#1a1a1a" textLength="27.2" lengthAdjust="spacingAndGlyphs">1/FLOP2</text>
<text x="6.8" y="359.7" font-size="8.5" font-weight="bold" fill="#111">c</text>
<text transform="translate(13.8,307.7) rotate(-90)" font-size="8.3" fill="#1a1a1a" textLength="78.8" lengthAdjust="spacingAndGlyphs">eGFR (ml/min/1.73 m<tspan font-size="5.5" dy="-3">2</tspan><tspan dy="3">)</tspan></text>
<text x="197.1" y="207.1" font-size="7.3" fill="#1a1a1a" textLength="33.6" lengthAdjust="spacingAndGlyphs">r = 0.5521</text>
<text x="197.1" y="217" font-size="7.3" fill="#1a1a1a" textLength="35" lengthAdjust="spacingAndGlyphs">p &lt; 0.0001</text>
<g fill="#000"><circle cx="57.1" cy="224.8" r="1.75"/><circle cx="68.0" cy="229.2" r="1.75"/><circle cx="103.4" cy="232.2" r="1.75"/><circle cx="101.8" cy="242.6" r="1.75"/><circle cx="51.2" cy="245.8" r="1.75"/><circle cx="52.5" cy="251.0" r="1.75"/><circle cx="54.2" cy="250.1" r="1.75"/><circle cx="57.5" cy="252.6" r="1.75"/><circle cx="76.5" cy="246.8" r="1.75"/><circle cx="82.8" cy="249.5" r="1.75"/><circle cx="73.0" cy="250.8" r="1.75"/><circle cx="68.8" cy="252.6" r="1.75"/><circle cx="66.2" cy="255.8" r="1.75"/><circle cx="52.1" cy="255.8" r="1.75"/><circle cx="57.8" cy="258.0" r="1.75"/><circle cx="61.8" cy="261.0" r="1.75"/><circle cx="76.8" cy="257.6" r="1.75"/><circle cx="82.1" cy="260.5" r="1.75"/><circle cx="88.8" cy="261.8" r="1.75"/><circle cx="101.2" cy="254.2" r="1.75"/><circle cx="65.2" cy="264.5" r="1.75"/><circle cx="67.5" cy="264.5" r="1.75"/><circle cx="78.0" cy="264.5" r="1.75"/><circle cx="120.5" cy="206.4" r="1.75"/><circle cx="112.5" cy="215.5" r="1.75"/><circle cx="119.6" cy="226.8" r="1.75"/><circle cx="115.2" cy="234.8" r="1.75"/><circle cx="119.0" cy="238.0" r="1.75"/><circle cx="120.2" cy="240.1" r="1.75"/><circle cx="122.8" cy="242.0" r="1.75"/><circle cx="105.5" cy="241.4" r="1.75"/><circle cx="110.0" cy="242.6" r="1.75"/><circle cx="126.2" cy="245.1" r="1.75"/><circle cx="147.1" cy="225.5" r="1.75"/><circle cx="158.0" cy="224.2" r="1.75"/><circle cx="160.9" cy="228.2" r="1.75"/><circle cx="162.8" cy="228.9" r="1.75"/><circle cx="143.4" cy="230.5" r="1.75"/><circle cx="140.9" cy="233.5" r="1.75"/><circle cx="145.2" cy="236.0" r="1.75"/><circle cx="159.0" cy="232.6" r="1.75"/><circle cx="159.6" cy="234.5" r="1.75"/><circle cx="166.5" cy="236.0" r="1.75"/><circle cx="153.4" cy="239.8" r="1.75"/><circle cx="160.2" cy="239.2" r="1.75"/><circle cx="160.9" cy="241.4" r="1.75"/><circle cx="165.2" cy="241.0" r="1.75"/><circle cx="142.8" cy="242.0" r="1.75"/><circle cx="145.2" cy="242.6" r="1.75"/><circle cx="148.4" cy="241.4" r="1.75"/><circle cx="150.9" cy="243.9" r="1.75"/><circle cx="140.2" cy="244.5" r="1.75"/><circle cx="142.1" cy="246.4" r="1.75"/><circle cx="144.0" cy="245.8" r="1.75"/><circle cx="159.6" cy="245.1" r="1.75"/><circle cx="162.8" cy="244.8" r="1.75"/><circle cx="165.2" cy="245.1" r="1.75"/><circle cx="134.0" cy="247.6" r="1.75"/><circle cx="137.8" cy="249.5" r="1.75"/><circle cx="141.5" cy="248.2" r="1.75"/><circle cx="145.2" cy="250.8" r="1.75"/><circle cx="150.9" cy="251.0" r="1.75"/><circle cx="154.6" cy="252.0" r="1.75"/><circle cx="158.4" cy="248.2" r="1.75"/><circle cx="167.8" cy="249.5" r="1.75"/><circle cx="120.0" cy="251.8" r="1.75"/><circle cx="127.1" cy="252.0" r="1.75"/><circle cx="127.8" cy="253.9" r="1.75"/><circle cx="134.6" cy="252.6" r="1.75"/><circle cx="141.5" cy="253.2" r="1.75"/><circle cx="142.8" cy="255.5" r="1.75"/><circle cx="147.8" cy="256.4" r="1.75"/><circle cx="152.1" cy="254.5" r="1.75"/><circle cx="155.2" cy="255.8" r="1.75"/><circle cx="159.6" cy="254.5" r="1.75"/><circle cx="165.9" cy="253.9" r="1.75"/><circle cx="111.5" cy="259.2" r="1.75"/><circle cx="118.8" cy="259.2" r="1.75"/><circle cx="121.8" cy="261.8" r="1.75"/><circle cx="129.6" cy="258.9" r="1.75"/><circle cx="108.4" cy="263.2" r="1.75"/><circle cx="114.6" cy="262.6" r="1.75"/><circle cx="127.1" cy="263.0" r="1.75"/><circle cx="130.2" cy="263.2" r="1.75"/><circle cx="136.5" cy="260.8" r="1.75"/><circle cx="139.0" cy="262.6" r="1.75"/><circle cx="144.0" cy="262.0" r="1.75"/><circle cx="147.1" cy="260.1" r="1.75"/><circle cx="150.2" cy="261.4" r="1.75"/><circle cx="154.0" cy="262.0" r="1.75"/><circle cx="159.0" cy="258.2" r="1.75"/><circle cx="162.8" cy="259.5" r="1.75"/><circle cx="166.5" cy="260.8" r="1.75"/><circle cx="145.2" cy="264.5" r="1.75"/><circle cx="151.5" cy="264.5" r="1.75"/><circle cx="162.1" cy="263.9" r="1.75"/><circle cx="189.0" cy="215.1" r="1.75"/><circle cx="184.0" cy="218.9" r="1.75"/><circle cx="175.5" cy="219.8" r="1.75"/><circle cx="212.1" cy="226.8" r="1.75"/><circle cx="184.0" cy="229.8" r="1.75"/><circle cx="187.8" cy="232.6" r="1.75"/><circle cx="192.8" cy="231.0" r="1.75"/><circle cx="197.8" cy="232.6" r="1.75"/><circle cx="205.9" cy="230.5" r="1.75"/><circle cx="207.8" cy="231.4" r="1.75"/><circle cx="174.0" cy="232.0" r="1.75"/><circle cx="177.8" cy="231.0" r="1.75"/><circle cx="179.0" cy="233.2" r="1.75"/><circle cx="170.2" cy="235.8" r="1.75"/><circle cx="178.4" cy="235.8" r="1.75"/><circle cx="200.9" cy="235.8" r="1.75"/><circle cx="205.2" cy="235.5" r="1.75"/><circle cx="185.9" cy="237.2" r="1.75"/><circle cx="192.8" cy="237.0" r="1.75"/><circle cx="190.9" cy="240.1" r="1.75"/><circle cx="210.2" cy="237.6" r="1.75"/><circle cx="211.5" cy="240.1" r="1.75"/><circle cx="207.8" cy="240.1" r="1.75"/><circle cx="179.6" cy="242.0" r="1.75"/><circle cx="181.5" cy="241.4" r="1.75"/><circle cx="184.0" cy="242.0" r="1.75"/><circle cx="190.9" cy="243.2" r="1.75"/><circle cx="186.5" cy="245.1" r="1.75"/><circle cx="184.6" cy="246.4" r="1.75"/><circle cx="199.0" cy="246.0" r="1.75"/><circle cx="200.2" cy="247.6" r="1.75"/><circle cx="218.4" cy="244.2" r="1.75"/><circle cx="174.0" cy="248.2" r="1.75"/><circle cx="175.2" cy="250.1" r="1.75"/><circle cx="179.6" cy="250.1" r="1.75"/><circle cx="191.5" cy="248.9" r="1.75"/><circle cx="171.5" cy="252.0" r="1.75"/><circle cx="175.9" cy="253.2" r="1.75"/><circle cx="181.5" cy="253.2" r="1.75"/><circle cx="190.2" cy="254.5" r="1.75"/><circle cx="193.4" cy="254.8" r="1.75"/><circle cx="202.1" cy="254.5" r="1.75"/><circle cx="202.8" cy="255.8" r="1.75"/><circle cx="169.6" cy="255.8" r="1.75"/><circle cx="172.8" cy="257.0" r="1.75"/><circle cx="175.9" cy="258.2" r="1.75"/><circle cx="183.4" cy="258.9" r="1.75"/><circle cx="181.5" cy="262.0" r="1.75"/><circle cx="170.9" cy="260.8" r="1.75"/><circle cx="210.9" cy="262.2" r="1.75"/><circle cx="199.6" cy="264.5" r="1.75"/><circle cx="72.8" cy="272.8" r="1.75"/><circle cx="57.1" cy="276.9" r="1.75"/><circle cx="58.4" cy="276.0" r="1.75"/><circle cx="61.5" cy="279.4" r="1.75"/><circle cx="64.0" cy="280.6" r="1.75"/><circle cx="75.9" cy="281.0" r="1.75"/><circle cx="81.5" cy="277.5" r="1.75"/><circle cx="82.1" cy="278.8" r="1.75"/><circle cx="92.1" cy="270.0" r="1.75"/><circle cx="92.1" cy="274.4" r="1.75"/><circle cx="92.8" cy="276.5" r="1.75"/><circle cx="96.8" cy="268.1" r="1.75"/><circle cx="97.1" cy="271.9" r="1.75"/><circle cx="102.1" cy="272.8" r="1.75"/><circle cx="59.0" cy="284.4" r="1.75"/><circle cx="62.1" cy="286.5" r="1.75"/><circle cx="71.5" cy="283.8" r="1.75"/><circle cx="72.8" cy="285.6" r="1.75"/><circle cx="74.0" cy="287.5" r="1.75"/><circle cx="72.1" cy="288.5" r="1.75"/><circle cx="58.4" cy="290.6" r="1.75"/><circle cx="60.2" cy="290.6" r="1.75"/><circle cx="80.2" cy="290.6" r="1.75"/><circle cx="89.0" cy="291.5" r="1.75"/><circle cx="95.5" cy="289.8" r="1.75"/><circle cx="100.9" cy="286.2" r="1.75"/><circle cx="101.5" cy="287.5" r="1.75"/><circle cx="66.5" cy="295.0" r="1.75"/><circle cx="69.0" cy="294.4" r="1.75"/><circle cx="72.1" cy="294.4" r="1.75"/><circle cx="51.5" cy="305.0" r="1.75"/><circle cx="55.2" cy="302.2" r="1.75"/><circle cx="60.0" cy="301.5" r="1.75"/><circle cx="67.8" cy="300.6" r="1.75"/><circle cx="68.4" cy="302.5" r="1.75"/><circle cx="71.5" cy="301.9" r="1.75"/><circle cx="75.2" cy="298.8" r="1.75"/><circle cx="74.0" cy="303.8" r="1.75"/><circle cx="79.6" cy="300.0" r="1.75"/><circle cx="82.8" cy="298.1" r="1.75"/><circle cx="87.1" cy="296.9" r="1.75"/><circle cx="94.0" cy="298.8" r="1.75"/><circle cx="96.5" cy="300.0" r="1.75"/><circle cx="99.0" cy="301.2" r="1.75"/><circle cx="102.8" cy="298.1" r="1.75"/><circle cx="67.1" cy="305.0" r="1.75"/><circle cx="69.0" cy="306.2" r="1.75"/><circle cx="72.8" cy="306.2" r="1.75"/><circle cx="78.4" cy="302.5" r="1.75"/><circle cx="79.0" cy="305.0" r="1.75"/><circle cx="82.1" cy="301.9" r="1.75"/><circle cx="84.6" cy="305.6" r="1.75"/><circle cx="93.4" cy="305.6" r="1.75"/><circle cx="97.1" cy="306.2" r="1.75"/><circle cx="102.1" cy="305.0" r="1.75"/><circle cx="102.8" cy="311.2" r="1.75"/><circle cx="75.9" cy="310.6" r="1.75"/><circle cx="77.8" cy="312.5" r="1.75"/><circle cx="82.8" cy="311.2" r="1.75"/><circle cx="85.2" cy="313.1" r="1.75"/><circle cx="86.5" cy="315.0" r="1.75"/><circle cx="89.6" cy="314.4" r="1.75"/><circle cx="91.5" cy="316.2" r="1.75"/><circle cx="94.0" cy="316.2" r="1.75"/><circle cx="99.6" cy="315.0" r="1.75"/><circle cx="52.8" cy="317.5" r="1.75"/><circle cx="56.5" cy="314.0" r="1.75"/><circle cx="60.0" cy="316.2" r="1.75"/><circle cx="67.8" cy="320.0" r="1.75"/><circle cx="76.5" cy="315.0" r="1.75"/><circle cx="77.1" cy="318.8" r="1.75"/><circle cx="79.6" cy="316.2" r="1.75"/><circle cx="82.8" cy="318.1" r="1.75"/><circle cx="84.0" cy="320.6" r="1.75"/><circle cx="88.4" cy="318.8" r="1.75"/><circle cx="92.1" cy="320.0" r="1.75"/><circle cx="105.9" cy="266.9" r="1.75"/><circle cx="110.9" cy="268.8" r="1.75"/><circle cx="127.1" cy="267.8" r="1.75"/><circle cx="119.6" cy="270.6" r="1.75"/><circle cx="120.2" cy="273.8" r="1.75"/><circle cx="132.8" cy="270.6" r="1.75"/><circle cx="133.4" cy="272.5" r="1.75"/><circle cx="142.1" cy="272.5" r="1.75"/><circle cx="141.5" cy="274.4" r="1.75"/><circle cx="148.4" cy="268.5" r="1.75"/><circle cx="150.9" cy="267.8" r="1.75"/><circle cx="159.0" cy="268.8" r="1.75"/><circle cx="161.5" cy="268.1" r="1.75"/><circle cx="164.0" cy="267.5" r="1.75"/><circle cx="167.1" cy="266.9" r="1.75"/><circle cx="105.2" cy="276.2" r="1.75"/><circle cx="129.6" cy="276.5" r="1.75"/><circle cx="130.9" cy="277.5" r="1.75"/><circle cx="139.0" cy="276.9" r="1.75"/><circle cx="150.2" cy="276.9" r="1.75"/><circle cx="152.1" cy="275.0" r="1.75"/><circle cx="155.2" cy="273.1" r="1.75"/><circle cx="159.6" cy="271.9" r="1.75"/><circle cx="165.2" cy="273.5" r="1.75"/><circle cx="159.6" cy="277.5" r="1.75"/><circle cx="164.0" cy="279.0" r="1.75"/><circle cx="167.1" cy="281.0" r="1.75"/><circle cx="113.4" cy="283.5" r="1.75"/><circle cx="122.1" cy="279.0" r="1.75"/><circle cx="122.8" cy="281.9" r="1.75"/><circle cx="122.5" cy="283.8" r="1.75"/><circle cx="126.5" cy="284.4" r="1.75"/><circle cx="132.8" cy="281.2" r="1.75"/><circle cx="134.0" cy="283.5" r="1.75"/><circle cx="136.5" cy="285.0" r="1.75"/><circle cx="139.0" cy="285.0" r="1.75"/><circle cx="141.5" cy="283.8" r="1.75"/><circle cx="142.8" cy="281.9" r="1.75"/><circle cx="146.5" cy="285.0" r="1.75"/><circle cx="150.2" cy="284.4" r="1.75"/><circle cx="151.5" cy="283.1" r="1.75"/><circle cx="156.5" cy="286.2" r="1.75"/><circle cx="162.1" cy="285.6" r="1.75"/><circle cx="104.6" cy="286.9" r="1.75"/><circle cx="120.2" cy="287.5" r="1.75"/><circle cx="124.0" cy="288.1" r="1.75"/><circle cx="107.8" cy="293.1" r="1.75"/><circle cx="112.8" cy="295.0" r="1.75"/><circle cx="115.9" cy="294.4" r="1.75"/><circle cx="114.0" cy="296.9" r="1.75"/><circle cx="119.0" cy="296.2" r="1.75"/><circle cx="120.9" cy="297.8" r="1.75"/><circle cx="122.8" cy="295.6" r="1.75"/><circle cx="124.0" cy="298.1" r="1.75"/><circle cx="125.9" cy="291.2" r="1.75"/><circle cx="128.4" cy="293.1" r="1.75"/><circle cx="130.9" cy="293.8" r="1.75"/><circle cx="134.6" cy="291.2" r="1.75"/><circle cx="135.2" cy="293.1" r="1.75"/><circle cx="134.0" cy="295.0" r="1.75"/><circle cx="147.1" cy="295.0" r="1.75"/><circle cx="146.5" cy="296.9" r="1.75"/><circle cx="109.0" cy="301.2" r="1.75"/><circle cx="110.9" cy="302.5" r="1.75"/><circle cx="112.8" cy="300.0" r="1.75"/><circle cx="115.2" cy="299.4" r="1.75"/><circle cx="116.5" cy="300.6" r="1.75"/><circle cx="108.4" cy="305.0" r="1.75"/><circle cx="111.5" cy="305.6" r="1.75"/><circle cx="114.0" cy="303.8" r="1.75"/><circle cx="122.8" cy="302.8" r="1.75"/><circle cx="127.1" cy="302.2" r="1.75"/><circle cx="128.4" cy="298.1" r="1.75"/><circle cx="132.8" cy="300.6" r="1.75"/><circle cx="134.0" cy="302.5" r="1.75"/><circle cx="144.0" cy="301.5" r="1.75"/><circle cx="145.9" cy="303.8" r="1.75"/><circle cx="167.1" cy="305.2" r="1.75"/><circle cx="105.2" cy="306.2" r="1.75"/><circle cx="106.5" cy="311.2" r="1.75"/><circle cx="107.1" cy="314.4" r="1.75"/><circle cx="117.8" cy="311.0" r="1.75"/><circle cx="127.1" cy="308.1" r="1.75"/><circle cx="137.8" cy="307.5" r="1.75"/><circle cx="139.0" cy="310.6" r="1.75"/><circle cx="143.4" cy="311.5" r="1.75"/><circle cx="170.2" cy="266.2" r="1.75"/><circle cx="172.8" cy="268.8" r="1.75"/><circle cx="174.0" cy="272.8" r="1.75"/><circle cx="174.6" cy="277.2" r="1.75"/><circle cx="187.8" cy="274.0" r="1.75"/><circle cx="187.8" cy="281.2" r="1.75"/><circle cx="196.5" cy="268.1" r="1.75"/><circle cx="210.5" cy="271.0" r="1.75"/><circle cx="223.4" cy="282.8" r="1.75"/><circle cx="173.8" cy="286.9" r="1.75"/></g>
</g>
<g id="pd">
<path d="M323.20,261.50 L329.22,263.17 L335.23,264.84 L341.25,266.49 L347.27,268.14 L353.28,269.78 L359.30,271.41 L365.32,273.03 L371.33,274.63 L377.35,276.21 L383.37,277.76 L389.38,279.28 L395.40,280.77 L401.42,282.23 L407.43,283.64 L413.45,285.01 L419.47,286.33 L425.48,287.62 L431.50,288.88 L437.52,290.11 L443.53,291.31 L449.55,292.49 L455.57,293.65 L461.58,294.80 L467.60,295.94 L473.62,297.06 L479.63,298.18 L485.65,299.29 L491.67,300.40 L497.68,301.50 L503.70,302.60 L503.70,314.10 L497.68,312.42 L491.67,310.75 L485.65,309.08 L479.63,307.41 L473.62,305.75 L467.60,304.10 L461.58,302.47 L455.57,300.84 L449.55,299.22 L443.53,297.63 L437.52,296.05 L431.50,294.50 L425.48,292.98 L419.47,291.49 L413.45,290.04 L407.43,288.64 L401.42,287.27 L395.40,285.95 L389.38,284.66 L383.37,283.41 L377.35,282.18 L371.33,280.99 L365.32,279.81 L359.30,278.65 L353.28,277.50 L347.27,276.36 L341.25,275.24 L335.23,274.12 L329.22,273.01 L323.20,271.90Z" fill="#b0b0b0"/>
<line x1="323.2" y1="266.3" x2="503.7" y2="308.4" stroke="#303030" stroke-width="0.9"/>
<path d="M310.2,202.3 V334.5 M309.5,334.5 H513.4" stroke="#858585" stroke-width="0.9" fill="none"/>
<line x1="307.2" y1="327.3" x2="310.2" y2="327.3" stroke="#858585" stroke-width="0.9"/>
<text transform="translate(304.59999999999997,330.2) scale(0.83,1)" font-size="8.6" fill="#1a1a1a" text-anchor="end">0</text>
<line x1="307.2" y1="300.2" x2="310.2" y2="300.2" stroke="#858585" stroke-width="0.9"/>
<text transform="translate(304.59999999999997,303.09999999999997) scale(0.83,1)" font-size="8.6" fill="#1a1a1a" text-anchor="end">2</text>
<line x1="307.2" y1="273.7" x2="310.2" y2="273.7" stroke="#858585" stroke-width="0.9"/>
<text transform="translate(304.59999999999997,276.59999999999997) scale(0.83,1)" font-size="8.6" fill="#1a1a1a" text-anchor="end">4</text>
<line x1="307.2" y1="247" x2="310.2" y2="247" stroke="#858585" stroke-width="0.9"/>
<text transform="translate(304.59999999999997,249.9) scale(0.83,1)" font-size="8.6" fill="#1a1a1a" text-anchor="end">6</text>
<line x1="307.2" y1="220" x2="310.2" y2="220" stroke="#858585" stroke-width="0.9"/>
<text transform="translate(304.59999999999997,222.9) scale(0.83,1)" font-size="8.6" fill="#1a1a1a" text-anchor="end">8</text>
<line x1="320.4" y1="334.5" x2="320.4" y2="337.5" stroke="#858585" stroke-width="0.9"/>
<text transform="translate(320.4,347.4) scale(0.83,1)" font-size="8.6" fill="#1a1a1a" text-anchor="middle">0</text>
<line x1="380.7" y1="334.5" x2="380.7" y2="337.5" stroke="#858585" stroke-width="0.9"/>
<text transform="translate(380.7,347.4) scale(0.83,1)" font-size="8.6" fill="#1a1a1a" text-anchor="middle">0.002</text>
<line x1="441.2" y1="334.5" x2="441.2" y2="337.5" stroke="#858585" stroke-width="0.9"/>
<text transform="translate(441.2,347.4) scale(0.83,1)" font-size="8.6" fill="#1a1a1a" text-anchor="middle">0.004</text>
<line x1="501.2" y1="334.5" x2="501.2" y2="337.5" stroke="#858585" stroke-width="0.9"/>
<text transform="translate(501.2,347.4) scale(0.83,1)" font-size="8.6" fill="#1a1a1a" text-anchor="middle">0.006</text>
<text x="398.2" y="357.8" font-size="8.2" fill="#1a1a1a" textLength="27.2" lengthAdjust="spacingAndGlyphs">1/FLOP2</text>
<text x="286.5" y="358.5" font-size="8.5" font-weight="bold" fill="#111">d</text>
<text transform="translate(291.7,316.4) rotate(-90)" font-size="8.3" fill="#1a1a1a" textLength="96.4" lengthAdjust="spacingAndGlyphs">log urine albumin (mg/24 h)</text>
<text x="471.2" y="208.6" font-size="7.3" fill="#1a1a1a" textLength="38.4" lengthAdjust="spacingAndGlyphs">r = –0.4004</text>
<text x="471.2" y="217.8" font-size="7.3" fill="#1a1a1a" textLength="35" lengthAdjust="spacingAndGlyphs">p &lt; 0.0001</text>
<g fill="#000"><circle cx="350.5" cy="208.5" r="1.75"/><circle cx="325.0" cy="227.8" r="1.75"/><circle cx="340.9" cy="230.6" r="1.75"/><circle cx="345.9" cy="228.1" r="1.75"/><circle cx="347.5" cy="230.0" r="1.75"/><circle cx="351.5" cy="231.2" r="1.75"/><circle cx="352.1" cy="233.8" r="1.75"/><circle cx="358.4" cy="226.9" r="1.75"/><circle cx="360.0" cy="227.8" r="1.75"/><circle cx="365.0" cy="230.2" r="1.75"/><circle cx="367.8" cy="225.2" r="1.75"/><circle cx="374.6" cy="226.2" r="1.75"/><circle cx="377.8" cy="224.8" r="1.75"/><circle cx="328.4" cy="238.1" r="1.75"/><circle cx="332.5" cy="236.2" r="1.75"/><circle cx="348.8" cy="239.0" r="1.75"/><circle cx="354.6" cy="239.0" r="1.75"/><circle cx="356.5" cy="240.6" r="1.75"/><circle cx="358.4" cy="242.5" r="1.75"/><circle cx="360.5" cy="236.5" r="1.75"/><circle cx="363.0" cy="235.6" r="1.75"/><circle cx="366.5" cy="240.2" r="1.75"/><circle cx="369.0" cy="241.2" r="1.75"/><circle cx="370.9" cy="241.0" r="1.75"/><circle cx="340.5" cy="245.0" r="1.75"/><circle cx="345.0" cy="248.5" r="1.75"/><circle cx="344.6" cy="250.2" r="1.75"/><circle cx="368.8" cy="246.9" r="1.75"/><circle cx="372.8" cy="246.9" r="1.75"/><circle cx="374.6" cy="248.1" r="1.75"/><circle cx="324.0" cy="253.5" r="1.75"/><circle cx="328.0" cy="251.0" r="1.75"/><circle cx="336.2" cy="251.5" r="1.75"/><circle cx="339.6" cy="256.2" r="1.75"/><circle cx="355.2" cy="255.6" r="1.75"/><circle cx="357.1" cy="255.6" r="1.75"/><circle cx="361.8" cy="256.0" r="1.75"/><circle cx="361.2" cy="261.2" r="1.75"/><circle cx="344.6" cy="260.2" r="1.75"/><circle cx="343.4" cy="264.4" r="1.75"/><circle cx="377.1" cy="263.8" r="1.75"/><circle cx="378.4" cy="244.4" r="1.75"/><circle cx="332.5" cy="266.9" r="1.75"/><circle cx="360.9" cy="267.5" r="1.75"/><circle cx="371.5" cy="267.5" r="1.75"/><circle cx="383.4" cy="226.2" r="1.75"/><circle cx="381.5" cy="230.0" r="1.75"/><circle cx="380.9" cy="233.5" r="1.75"/><circle cx="384.2" cy="237.8" r="1.75"/><circle cx="393.4" cy="237.5" r="1.75"/><circle cx="402.8" cy="230.6" r="1.75"/><circle cx="404.0" cy="229.8" r="1.75"/><circle cx="407.8" cy="235.0" r="1.75"/><circle cx="412.5" cy="228.5" r="1.75"/><circle cx="414.6" cy="224.8" r="1.75"/><circle cx="415.2" cy="235.0" r="1.75"/><circle cx="417.1" cy="239.8" r="1.75"/><circle cx="431.5" cy="236.6" r="1.75"/><circle cx="390.2" cy="244.8" r="1.75"/><circle cx="387.8" cy="246.9" r="1.75"/><circle cx="385.2" cy="249.8" r="1.75"/><circle cx="387.5" cy="253.5" r="1.75"/><circle cx="391.2" cy="257.8" r="1.75"/><circle cx="399.0" cy="247.8" r="1.75"/><circle cx="404.6" cy="244.4" r="1.75"/><circle cx="405.9" cy="247.2" r="1.75"/><circle cx="410.2" cy="244.4" r="1.75"/><circle cx="410.5" cy="249.8" r="1.75"/><circle cx="402.1" cy="254.0" r="1.75"/><circle cx="405.2" cy="256.5" r="1.75"/><circle cx="439.6" cy="250.6" r="1.75"/><circle cx="388.4" cy="263.5" r="1.75"/><circle cx="392.8" cy="264.4" r="1.75"/><circle cx="395.2" cy="264.8" r="1.75"/><circle cx="394.6" cy="266.9" r="1.75"/><circle cx="398.8" cy="262.5" r="1.75"/><circle cx="410.5" cy="261.9" r="1.75"/><circle cx="433.4" cy="266.5" r="1.75"/><circle cx="451.5" cy="242.5" r="1.75"/><circle cx="445.2" cy="246.5" r="1.75"/><circle cx="456.5" cy="262.8" r="1.75"/><circle cx="465.9" cy="265.0" r="1.75"/><circle cx="334.0" cy="273.6" r="1.75"/><circle cx="340.9" cy="274.5" r="1.75"/><circle cx="345.2" cy="270.8" r="1.75"/><circle cx="357.8" cy="275.2" r="1.75"/><circle cx="367.8" cy="272.4" r="1.75"/><circle cx="365.9" cy="278.0" r="1.75"/><circle cx="370.2" cy="278.0" r="1.75"/><circle cx="375.2" cy="278.0" r="1.75"/><circle cx="372.8" cy="281.5" r="1.75"/><circle cx="349.6" cy="281.1" r="1.75"/><circle cx="350.2" cy="283.0" r="1.75"/><circle cx="348.4" cy="284.2" r="1.75"/><circle cx="324.6" cy="286.5" r="1.75"/><circle cx="331.8" cy="287.4" r="1.75"/><circle cx="345.2" cy="287.4" r="1.75"/><circle cx="347.8" cy="290.2" r="1.75"/><circle cx="356.5" cy="287.4" r="1.75"/><circle cx="363.4" cy="290.5" r="1.75"/><circle cx="366.2" cy="287.8" r="1.75"/><circle cx="372.1" cy="290.5" r="1.75"/><circle cx="377.1" cy="287.4" r="1.75"/><circle cx="377.8" cy="290.5" r="1.75"/><circle cx="376.5" cy="294.2" r="1.75"/><circle cx="351.5" cy="293.0" r="1.75"/><circle cx="335.2" cy="294.2" r="1.75"/><circle cx="337.8" cy="294.9" r="1.75"/><circle cx="339.6" cy="296.1" r="1.75"/><circle cx="340.9" cy="298.0" r="1.75"/><circle cx="341.5" cy="299.2" r="1.75"/><circle cx="327.1" cy="296.8" r="1.75"/><circle cx="330.2" cy="296.1" r="1.75"/><circle cx="346.8" cy="295.8" r="1.75"/><circle cx="350.9" cy="298.0" r="1.75"/><circle cx="352.8" cy="298.6" r="1.75"/><circle cx="355.9" cy="300.8" r="1.75"/><circle cx="336.5" cy="301.5" r="1.75"/><circle cx="350.2" cy="303.0" r="1.75"/><circle cx="347.8" cy="304.9" r="1.75"/><circle cx="345.9" cy="306.8" r="1.75"/><circle cx="339.6" cy="304.9" r="1.75"/><circle cx="341.5" cy="306.1" r="1.75"/><circle cx="330.2" cy="303.6" r="1.75"/><circle cx="329.6" cy="306.1" r="1.75"/><circle cx="326.5" cy="306.1" r="1.75"/><circle cx="323.4" cy="310.8" r="1.75"/><circle cx="346.5" cy="310.5" r="1.75"/><circle cx="352.8" cy="308.6" r="1.75"/><circle cx="355.2" cy="306.8" r="1.75"/><circle cx="370.0" cy="305.2" r="1.75"/><circle cx="371.5" cy="312.4" r="1.75"/><circle cx="377.1" cy="309.9" r="1.75"/><circle cx="329.6" cy="318.2" r="1.75"/><circle cx="387.8" cy="269.2" r="1.75"/><circle cx="398.4" cy="269.2" r="1.75"/><circle cx="384.6" cy="273.2" r="1.75"/><circle cx="390.9" cy="274.2" r="1.75"/><circle cx="394.6" cy="276.1" r="1.75"/><circle cx="397.1" cy="274.5" r="1.75"/><circle cx="397.8" cy="277.8" r="1.75"/><circle cx="412.8" cy="273.6" r="1.75"/><circle cx="422.1" cy="273.6" r="1.75"/><circle cx="432.1" cy="274.9" r="1.75"/><circle cx="436.5" cy="275.5" r="1.75"/><circle cx="439.0" cy="275.8" r="1.75"/><circle cx="381.5" cy="280.5" r="1.75"/><circle cx="389.6" cy="283.6" r="1.75"/><circle cx="380.9" cy="287.8" r="1.75"/><circle cx="387.8" cy="288.0" r="1.75"/><circle cx="402.8" cy="287.4" r="1.75"/><circle cx="402.1" cy="289.0" r="1.75"/><circle cx="411.5" cy="283.6" r="1.75"/><circle cx="418.4" cy="281.8" r="1.75"/><circle cx="424.0" cy="282.4" r="1.75"/><circle cx="425.9" cy="279.9" r="1.75"/><circle cx="429.6" cy="283.2" r="1.75"/><circle cx="437.8" cy="283.2" r="1.75"/><circle cx="395.2" cy="291.8" r="1.75"/><circle cx="395.9" cy="294.2" r="1.75"/><circle cx="390.2" cy="294.2" r="1.75"/><circle cx="405.2" cy="292.4" r="1.75"/><circle cx="382.8" cy="298.6" r="1.75"/><circle cx="390.9" cy="299.9" r="1.75"/><circle cx="384.6" cy="301.8" r="1.75"/><circle cx="386.5" cy="304.9" r="1.75"/><circle cx="385.2" cy="309.2" r="1.75"/><circle cx="396.5" cy="302.4" r="1.75"/><circle cx="395.2" cy="305.5" r="1.75"/><circle cx="394.6" cy="308.6" r="1.75"/><circle cx="393.4" cy="312.4" r="1.75"/><circle cx="394.6" cy="315.2" r="1.75"/><circle cx="394.6" cy="318.0" r="1.75"/><circle cx="399.0" cy="303.0" r="1.75"/><circle cx="401.5" cy="304.2" r="1.75"/><circle cx="405.2" cy="299.9" r="1.75"/><circle cx="408.4" cy="303.0" r="1.75"/><circle cx="409.0" cy="300.5" r="1.75"/><circle cx="407.8" cy="305.5" r="1.75"/><circle cx="408.4" cy="310.5" r="1.75"/><circle cx="402.1" cy="312.0" r="1.75"/><circle cx="405.2" cy="314.2" r="1.75"/><circle cx="409.0" cy="318.2" r="1.75"/><circle cx="380.2" cy="315.2" r="1.75"/><circle cx="472.1" cy="274.5" r="1.75"/><circle cx="467.1" cy="277.4" r="1.75"/><circle cx="468.4" cy="278.2" r="1.75"/><circle cx="460.9" cy="279.9" r="1.75"/><circle cx="457.1" cy="282.0" r="1.75"/><circle cx="503.4" cy="280.5" r="1.75"/><circle cx="480.2" cy="284.0" r="1.75"/><circle cx="485.2" cy="286.8" r="1.75"/><circle cx="475.2" cy="288.0" r="1.75"/><circle cx="475.5" cy="289.9" r="1.75"/><circle cx="484.6" cy="294.2" r="1.75"/><circle cx="489.6" cy="294.2" r="1.75"/><circle cx="490.2" cy="297.0" r="1.75"/><circle cx="497.8" cy="297.8" r="1.75"/><circle cx="486.5" cy="303.6" r="1.75"/><circle cx="489.6" cy="302.4" r="1.75"/><circle cx="477.8" cy="308.6" r="1.75"/><circle cx="480.2" cy="308.0" r="1.75"/><circle cx="481.5" cy="311.1" r="1.75"/><circle cx="489.0" cy="310.2" r="1.75"/><circle cx="479.2" cy="315.8" r="1.75"/><circle cx="411.2" cy="286.9" r="1.75"/><circle cx="417.5" cy="288.1" r="1.75"/><circle cx="419.4" cy="294.4" r="1.75"/><circle cx="426.2" cy="287.5" r="1.75"/><circle cx="427.5" cy="290.6" r="1.75"/><circle cx="430.0" cy="292.5" r="1.75"/><circle cx="436.9" cy="288.1" r="1.75"/><circle cx="441.9" cy="289.4" r="1.75"/><circle cx="436.2" cy="295.6" r="1.75"/><circle cx="440.0" cy="296.9" r="1.75"/><circle cx="414.4" cy="296.9" r="1.75"/><circle cx="411.9" cy="299.4" r="1.75"/><circle cx="416.9" cy="301.2" r="1.75"/><circle cx="420.0" cy="300.0" r="1.75"/><circle cx="422.5" cy="301.9" r="1.75"/><circle cx="417.5" cy="303.8" r="1.75"/><circle cx="421.2" cy="304.4" r="1.75"/><circle cx="418.8" cy="306.9" r="1.75"/><circle cx="423.8" cy="305.6" r="1.75"/><circle cx="426.2" cy="303.8" r="1.75"/><circle cx="428.8" cy="306.2" r="1.75"/><circle cx="431.9" cy="305.0" r="1.75"/><circle cx="436.2" cy="300.6" r="1.75"/><circle cx="438.8" cy="302.5" r="1.75"/><circle cx="442.5" cy="303.8" r="1.75"/><circle cx="435.0" cy="306.9" r="1.75"/><circle cx="437.5" cy="309.4" r="1.75"/><circle cx="440.0" cy="310.6" r="1.75"/><circle cx="441.9" cy="306.2" r="1.75"/><circle cx="446.2" cy="298.8" r="1.75"/><circle cx="446.9" cy="301.2" r="1.75"/><circle cx="450.0" cy="294.4" r="1.75"/><circle cx="453.1" cy="296.9" r="1.75"/><circle cx="453.8" cy="300.6" r="1.75"/><circle cx="448.8" cy="306.9" r="1.75"/><circle cx="451.2" cy="308.1" r="1.75"/><circle cx="455.0" cy="307.5" r="1.75"/><circle cx="458.1" cy="306.9" r="1.75"/><circle cx="461.2" cy="308.8" r="1.75"/><circle cx="463.8" cy="307.5" r="1.75"/><circle cx="467.5" cy="308.1" r="1.75"/><circle cx="470.0" cy="303.8" r="1.75"/><circle cx="471.2" cy="301.9" r="1.75"/><circle cx="414.4" cy="311.9" r="1.75"/><circle cx="418.1" cy="315.6" r="1.75"/><circle cx="422.5" cy="313.1" r="1.75"/><circle cx="426.2" cy="313.5" r="1.75"/><circle cx="429.4" cy="314.4" r="1.75"/><circle cx="438.1" cy="316.9" r="1.75"/><circle cx="440.0" cy="319.8" r="1.75"/><circle cx="443.1" cy="314.4" r="1.75"/><circle cx="445.0" cy="312.5" r="1.75"/><circle cx="443.8" cy="315.6" r="1.75"/><circle cx="463.1" cy="294.4" r="1.75"/><circle cx="471.2" cy="314.4" r="1.75"/><circle cx="460.0" cy="321.2" r="1.75"/><circle cx="465.6" cy="322.5" r="1.75"/><circle cx="438.1" cy="312.5" r="1.75"/><circle cx="474.4" cy="288.1" r="1.75"/><circle cx="415.6" cy="302.5" r="1.75"/><circle cx="418.8" cy="301.9" r="1.75"/><circle cx="421.9" cy="302.5" r="1.75"/><circle cx="425.0" cy="305.0" r="1.75"/><circle cx="430.6" cy="306.9" r="1.75"/><circle cx="436.9" cy="303.8" r="1.75"/><circle cx="440.6" cy="300.6" r="1.75"/><circle cx="439.4" cy="307.5" r="1.75"/><circle cx="441.2" cy="311.9" r="1.75"/><circle cx="452.5" cy="306.2" r="1.75"/><circle cx="456.9" cy="308.8" r="1.75"/><circle cx="460.0" cy="307.5" r="1.75"/><circle cx="465.6" cy="308.8" r="1.75"/><circle cx="468.8" cy="306.9" r="1.75"/><circle cx="447.5" cy="300.0" r="1.75"/><circle cx="451.2" cy="297.5" r="1.75"/><circle cx="423.8" cy="296.9" r="1.75"/><circle cx="433.1" cy="302.5" r="1.75"/><circle cx="442.5" cy="310.0" r="1.75"/><circle cx="363.0" cy="270.3" r="1.75"/><circle cx="369.5" cy="269.5" r="1.75"/><circle cx="379.3" cy="262.1" r="1.75"/></g>
</g>
<g id="pe">
<path d="M50.10,496.00 L55.81,494.29 L61.53,492.59 L67.24,490.87 L72.95,489.15 L78.67,487.43 L84.38,485.69 L90.09,483.95 L95.81,482.19 L101.52,480.42 L107.23,478.62 L112.95,476.81 L118.66,474.95 L124.37,473.06 L130.09,471.11 L135.80,469.11 L141.51,467.02 L147.23,464.86 L152.94,462.63 L158.65,460.31 L164.37,457.94 L170.08,455.51 L175.79,453.04 L181.51,450.53 L187.22,448.00 L192.93,445.45 L198.65,442.88 L204.36,440.30 L210.07,437.71 L215.79,435.11 L221.50,432.50 L221.50,447.00 L215.79,448.72 L210.07,450.45 L204.36,452.18 L198.65,453.93 L192.93,455.69 L187.22,457.46 L181.51,459.26 L175.79,461.08 L170.08,462.93 L164.37,464.83 L158.65,466.78 L152.94,468.79 L147.23,470.88 L141.51,473.05 L135.80,475.29 L130.09,477.61 L124.37,479.99 L118.66,482.43 L112.95,484.90 L107.23,487.41 L101.52,489.94 L95.81,492.50 L90.09,495.07 L84.38,497.65 L78.67,500.24 L72.95,502.84 L67.24,505.45 L61.53,508.06 L55.81,510.68 L50.10,513.30Z" fill="#b0b0b0"/>
<line x1="50.1" y1="504.4" x2="221.5" y2="440.5" stroke="#303030" stroke-width="0.9"/>
<path d="M38.6,399.0 V534.8 M37.5,534.8 H233" stroke="#858585" stroke-width="0.9" fill="none"/>
<line x1="35.6" y1="527.3" x2="38.6" y2="527.3" stroke="#858585" stroke-width="0.9"/>
<text transform="translate(33.0,530.1999999999999) scale(0.83,1)" font-size="8.6" fill="#1a1a1a" text-anchor="end">0</text>
<line x1="35.6" y1="487" x2="38.6" y2="487" stroke="#858585" stroke-width="0.9"/>
<text transform="translate(33.0,489.9) scale(0.83,1)" font-size="8.6" fill="#1a1a1a" text-anchor="end">50</text>
<line x1="35.6" y1="446.5" x2="38.6" y2="446.5" stroke="#858585" stroke-width="0.9"/>
<text transform="translate(33.0,449.4) scale(0.83,1)" font-size="8.6" fill="#1a1a1a" text-anchor="end">100</text>
<line x1="35.6" y1="406.4" x2="38.6" y2="406.4" stroke="#858585" stroke-width="0.9"/>
<text transform="translate(33.0,409.29999999999995) scale(0.83,1)" font-size="8.6" fill="#1a1a1a" text-anchor="end">150</text>
<line x1="47.6" y1="534.8" x2="47.6" y2="537.8" stroke="#858585" stroke-width="0.9"/>
<text transform="translate(47.6,547.6999999999999) scale(0.83,1)" font-size="8.6" fill="#1a1a1a" text-anchor="middle">0</text>
<line x1="91.7" y1="534.8" x2="91.7" y2="537.8" stroke="#858585" stroke-width="0.9"/>
<text transform="translate(91.7,547.6999999999999) scale(0.83,1)" font-size="8.6" fill="#1a1a1a" text-anchor="middle">0.01</text>
<line x1="135.4" y1="534.8" x2="135.4" y2="537.8" stroke="#858585" stroke-width="0.9"/>
<text transform="translate(135.4,547.6999999999999) scale(0.83,1)" font-size="8.6" fill="#1a1a1a" text-anchor="middle">0.02</text>
<line x1="180" y1="534.8" x2="180" y2="537.8" stroke="#858585" stroke-width="0.9"/>
<text transform="translate(180,547.6999999999999) scale(0.83,1)" font-size="8.6" fill="#1a1a1a" text-anchor="middle">0.03</text>
<line x1="224" y1="534.8" x2="224" y2="537.8" stroke="#858585" stroke-width="0.9"/>
<text transform="translate(224,547.6999999999999) scale(0.83,1)" font-size="8.6" fill="#1a1a1a" text-anchor="middle">0.04</text>
<text x="123.4" y="560" font-size="8.2" fill="#1a1a1a" textLength="27.2" lengthAdjust="spacingAndGlyphs">1/FLOP3</text>
<text x="6.3" y="558.8" font-size="8.5" font-weight="bold" fill="#111">e</text>
<text transform="translate(13.8,506.7) rotate(-90)" font-size="8.3" fill="#1a1a1a" textLength="78.8" lengthAdjust="spacingAndGlyphs">eGFR (ml/min/1.73 m<tspan font-size="5.5" dy="-3">2</tspan><tspan dy="3">)</tspan></text>
<text x="196.7" y="399.8" font-size="7.3" fill="#1a1a1a" textLength="33.6" lengthAdjust="spacingAndGlyphs">r = 0.3798</text>
<text x="196.7" y="409.6" font-size="7.3" fill="#1a1a1a" textLength="35" lengthAdjust="spacingAndGlyphs">p &lt; 0.0001</text>
<g fill="#000"><circle cx="85.2" cy="437.8" r="1.75"/><circle cx="68.8" cy="444.9" r="1.75"/><circle cx="76.5" cy="462.8" r="1.75"/><circle cx="96.2" cy="458.6" r="1.75"/><circle cx="102.8" cy="441.5" r="1.75"/><circle cx="103.4" cy="450.2" r="1.75"/><circle cx="103.4" cy="458.6" r="1.75"/><circle cx="130.9" cy="406.1" r="1.75"/><circle cx="113.0" cy="414.6" r="1.75"/><circle cx="119.0" cy="424.0" r="1.75"/><circle cx="114.0" cy="426.1" r="1.75"/><circle cx="110.9" cy="430.2" r="1.75"/><circle cx="124.0" cy="432.4" r="1.75"/><circle cx="121.5" cy="435.2" r="1.75"/><circle cx="129.0" cy="435.2" r="1.75"/><circle cx="139.6" cy="429.9" r="1.75"/><circle cx="141.5" cy="430.2" r="1.75"/><circle cx="139.0" cy="433.0" r="1.75"/><circle cx="149.0" cy="428.0" r="1.75"/><circle cx="148.4" cy="430.2" r="1.75"/><circle cx="151.5" cy="432.0" r="1.75"/><circle cx="155.2" cy="432.4" r="1.75"/><circle cx="159.0" cy="432.0" r="1.75"/><circle cx="160.9" cy="424.2" r="1.75"/><circle cx="167.8" cy="431.1" r="1.75"/><circle cx="165.2" cy="434.9" r="1.75"/><circle cx="165.9" cy="436.8" r="1.75"/><circle cx="120.2" cy="439.2" r="1.75"/><circle cx="122.1" cy="442.4" r="1.75"/><circle cx="108.4" cy="443.6" r="1.75"/><circle cx="109.6" cy="445.5" r="1.75"/><circle cx="114.6" cy="442.4" r="1.75"/><circle cx="116.5" cy="442.0" r="1.75"/><circle cx="126.5" cy="444.9" r="1.75"/><circle cx="129.0" cy="444.9" r="1.75"/><circle cx="130.2" cy="440.5" r="1.75"/><circle cx="132.8" cy="439.2" r="1.75"/><circle cx="134.6" cy="441.1" r="1.75"/><circle cx="135.2" cy="439.9" r="1.75"/><circle cx="149.6" cy="441.1" r="1.75"/><circle cx="155.2" cy="438.0" r="1.75"/><circle cx="154.6" cy="441.1" r="1.75"/><circle cx="167.8" cy="440.5" r="1.75"/><circle cx="162.8" cy="443.2" r="1.75"/><circle cx="166.5" cy="446.1" r="1.75"/><circle cx="119.0" cy="449.0" r="1.75"/><circle cx="117.1" cy="451.1" r="1.75"/><circle cx="119.6" cy="451.8" r="1.75"/><circle cx="112.1" cy="453.0" r="1.75"/><circle cx="114.0" cy="454.2" r="1.75"/><circle cx="106.5" cy="451.1" r="1.75"/><circle cx="127.8" cy="452.4" r="1.75"/><circle cx="129.6" cy="451.8" r="1.75"/><circle cx="132.8" cy="449.9" r="1.75"/><circle cx="135.9" cy="447.4" r="1.75"/><circle cx="137.1" cy="449.2" r="1.75"/><circle cx="142.8" cy="448.6" r="1.75"/><circle cx="144.0" cy="446.1" r="1.75"/><circle cx="153.4" cy="445.5" r="1.75"/><circle cx="155.2" cy="447.4" r="1.75"/><circle cx="156.5" cy="449.2" r="1.75"/><circle cx="162.8" cy="448.6" r="1.75"/><circle cx="165.2" cy="453.6" r="1.75"/><circle cx="107.8" cy="461.1" r="1.75"/><circle cx="115.9" cy="461.8" r="1.75"/><circle cx="122.8" cy="458.6" r="1.75"/><circle cx="124.6" cy="460.5" r="1.75"/><circle cx="122.1" cy="462.4" r="1.75"/><circle cx="131.5" cy="456.8" r="1.75"/><circle cx="134.6" cy="455.5" r="1.75"/><circle cx="135.9" cy="458.0" r="1.75"/><circle cx="136.5" cy="460.5" r="1.75"/><circle cx="130.9" cy="463.0" r="1.75"/><circle cx="140.2" cy="455.5" r="1.75"/><circle cx="141.5" cy="453.6" r="1.75"/><circle cx="142.1" cy="457.4" r="1.75"/><circle cx="140.2" cy="459.9" r="1.75"/><circle cx="144.0" cy="463.0" r="1.75"/><circle cx="147.1" cy="453.0" r="1.75"/><circle cx="150.2" cy="452.4" r="1.75"/><circle cx="151.5" cy="454.9" r="1.75"/><circle cx="147.1" cy="456.8" r="1.75"/><circle cx="150.2" cy="459.2" r="1.75"/><circle cx="154.0" cy="456.8" r="1.75"/><circle cx="156.5" cy="454.2" r="1.75"/><circle cx="159.0" cy="456.8" r="1.75"/><circle cx="161.5" cy="453.6" r="1.75"/><circle cx="164.0" cy="455.5" r="1.75"/><circle cx="161.5" cy="459.2" r="1.75"/><circle cx="166.5" cy="459.2" r="1.75"/><circle cx="155.2" cy="460.5" r="1.75"/><circle cx="152.1" cy="463.0" r="1.75"/><circle cx="159.0" cy="463.0" r="1.75"/><circle cx="137.8" cy="464.2" r="1.75"/><circle cx="146.5" cy="461.8" r="1.75"/><circle cx="190.5" cy="414.2" r="1.75"/><circle cx="176.5" cy="417.8" r="1.75"/><circle cx="181.5" cy="419.0" r="1.75"/><circle cx="173.8" cy="424.9" r="1.75"/><circle cx="172.8" cy="426.8" r="1.75"/><circle cx="170.9" cy="428.6" r="1.75"/><circle cx="189.2" cy="428.6" r="1.75"/><circle cx="184.6" cy="431.1" r="1.75"/><circle cx="184.0" cy="433.0" r="1.75"/><circle cx="182.5" cy="435.2" r="1.75"/><circle cx="170.9" cy="434.9" r="1.75"/><circle cx="177.8" cy="436.1" r="1.75"/><circle cx="177.1" cy="438.0" r="1.75"/><circle cx="176.5" cy="439.9" r="1.75"/><circle cx="194.0" cy="437.0" r="1.75"/><circle cx="212.1" cy="431.8" r="1.75"/><circle cx="221.2" cy="439.2" r="1.75"/><circle cx="189.6" cy="440.5" r="1.75"/><circle cx="191.2" cy="441.5" r="1.75"/><circle cx="192.1" cy="439.9" r="1.75"/><circle cx="181.2" cy="444.5" r="1.75"/><circle cx="184.6" cy="443.0" r="1.75"/><circle cx="174.0" cy="443.0" r="1.75"/><circle cx="172.8" cy="445.2" r="1.75"/><circle cx="192.8" cy="445.8" r="1.75"/><circle cx="195.9" cy="446.8" r="1.75"/><circle cx="193.4" cy="449.2" r="1.75"/><circle cx="186.5" cy="449.2" r="1.75"/><circle cx="172.1" cy="449.2" r="1.75"/><circle cx="174.0" cy="450.5" r="1.75"/><circle cx="177.1" cy="451.1" r="1.75"/><circle cx="176.8" cy="453.0" r="1.75"/><circle cx="171.5" cy="453.0" r="1.75"/><circle cx="183.4" cy="455.5" r="1.75"/><circle cx="177.1" cy="461.1" r="1.75"/><circle cx="183.4" cy="464.9" r="1.75"/><circle cx="185.2" cy="464.9" r="1.75"/><circle cx="191.5" cy="464.2" r="1.75"/><circle cx="51.5" cy="488.8" r="1.75"/><circle cx="53.8" cy="487.0" r="1.75"/><circle cx="50.2" cy="501.6" r="1.75"/><circle cx="81.2" cy="500.4" r="1.75"/><circle cx="78.8" cy="505.8" r="1.75"/><circle cx="90.0" cy="502.2" r="1.75"/><circle cx="93.8" cy="499.5" r="1.75"/><circle cx="98.8" cy="498.5" r="1.75"/><circle cx="99.2" cy="493.8" r="1.75"/><circle cx="103.0" cy="492.5" r="1.75"/><circle cx="102.8" cy="484.1" r="1.75"/><circle cx="103.4" cy="481.6" r="1.75"/><circle cx="103.4" cy="498.5" r="1.75"/><circle cx="100.9" cy="505.0" r="1.75"/><circle cx="102.8" cy="505.8" r="1.75"/><circle cx="101.5" cy="513.8" r="1.75"/><circle cx="103.4" cy="514.1" r="1.75"/><circle cx="92.5" cy="513.2" r="1.75"/><circle cx="90.2" cy="516.0" r="1.75"/><circle cx="88.4" cy="517.9" r="1.75"/><circle cx="85.5" cy="518.8" r="1.75"/><circle cx="98.0" cy="519.1" r="1.75"/><circle cx="109.0" cy="467.0" r="1.75"/><circle cx="115.9" cy="467.2" r="1.75"/><circle cx="124.0" cy="467.0" r="1.75"/><circle cx="130.9" cy="467.9" r="1.75"/><circle cx="135.2" cy="467.2" r="1.75"/><circle cx="140.2" cy="467.9" r="1.75"/><circle cx="146.5" cy="467.2" r="1.75"/><circle cx="151.5" cy="466.6" r="1.75"/><circle cx="156.5" cy="466.6" r="1.75"/><circle cx="162.8" cy="467.2" r="1.75"/><circle cx="106.5" cy="471.6" r="1.75"/><circle cx="122.8" cy="471.6" r="1.75"/><circle cx="125.2" cy="472.9" r="1.75"/><circle cx="127.8" cy="474.1" r="1.75"/><circle cx="130.2" cy="472.2" r="1.75"/><circle cx="132.8" cy="469.8" r="1.75"/><circle cx="136.5" cy="470.4" r="1.75"/><circle cx="141.5" cy="471.0" r="1.75"/><circle cx="144.0" cy="472.9" r="1.75"/><circle cx="150.2" cy="473.5" r="1.75"/><circle cx="152.1" cy="474.1" r="1.75"/><circle cx="157.1" cy="471.6" r="1.75"/><circle cx="164.0" cy="471.0" r="1.75"/><circle cx="167.8" cy="470.4" r="1.75"/><circle cx="114.0" cy="476.0" r="1.75"/><circle cx="130.2" cy="477.2" r="1.75"/><circle cx="132.8" cy="476.6" r="1.75"/><circle cx="140.2" cy="475.8" r="1.75"/><circle cx="145.2" cy="476.0" r="1.75"/><circle cx="118.4" cy="478.5" r="1.75"/><circle cx="120.2" cy="477.2" r="1.75"/><circle cx="122.8" cy="476.6" r="1.75"/><circle cx="134.6" cy="481.0" r="1.75"/><circle cx="137.1" cy="479.8" r="1.75"/><circle cx="140.2" cy="482.2" r="1.75"/><circle cx="143.4" cy="480.4" r="1.75"/><circle cx="144.6" cy="483.5" r="1.75"/><circle cx="150.9" cy="481.0" r="1.75"/><circle cx="151.5" cy="484.1" r="1.75"/><circle cx="154.0" cy="486.0" r="1.75"/><circle cx="155.2" cy="482.2" r="1.75"/><circle cx="159.0" cy="483.5" r="1.75"/><circle cx="162.1" cy="479.8" r="1.75"/><circle cx="164.0" cy="481.6" r="1.75"/><circle cx="165.2" cy="484.8" r="1.75"/><circle cx="168.4" cy="485.4" r="1.75"/><circle cx="124.0" cy="483.5" r="1.75"/><circle cx="127.8" cy="484.5" r="1.75"/><circle cx="130.9" cy="484.1" r="1.75"/><circle cx="135.2" cy="484.8" r="1.75"/><circle cx="141.5" cy="485.4" r="1.75"/><circle cx="114.0" cy="485.4" r="1.75"/><circle cx="115.2" cy="487.2" r="1.75"/><circle cx="160.9" cy="486.6" r="1.75"/><circle cx="162.1" cy="487.9" r="1.75"/><circle cx="122.1" cy="489.1" r="1.75"/><circle cx="130.2" cy="489.1" r="1.75"/><circle cx="135.2" cy="492.2" r="1.75"/><circle cx="139.6" cy="489.8" r="1.75"/><circle cx="141.5" cy="491.6" r="1.75"/><circle cx="144.0" cy="493.5" r="1.75"/><circle cx="147.1" cy="492.9" r="1.75"/><circle cx="154.6" cy="489.8" r="1.75"/><circle cx="156.5" cy="492.9" r="1.75"/><circle cx="157.8" cy="494.1" r="1.75"/><circle cx="114.0" cy="490.4" r="1.75"/><circle cx="110.2" cy="493.2" r="1.75"/><circle cx="107.8" cy="496.0" r="1.75"/><circle cx="119.0" cy="494.1" r="1.75"/><circle cx="119.0" cy="497.2" r="1.75"/><circle cx="122.8" cy="496.0" r="1.75"/><circle cx="125.2" cy="495.4" r="1.75"/><circle cx="127.1" cy="496.6" r="1.75"/><circle cx="132.8" cy="495.4" r="1.75"/><circle cx="137.1" cy="495.4" r="1.75"/><circle cx="137.1" cy="497.9" r="1.75"/><circle cx="140.2" cy="495.4" r="1.75"/><circle cx="143.4" cy="496.6" r="1.75"/><circle cx="147.1" cy="497.2" r="1.75"/><circle cx="150.9" cy="495.4" r="1.75"/><circle cx="146.5" cy="499.8" r="1.75"/><circle cx="152.1" cy="499.1" r="1.75"/><circle cx="151.5" cy="502.2" r="1.75"/><circle cx="168.4" cy="498.5" r="1.75"/><circle cx="162.8" cy="501.0" r="1.75"/><circle cx="165.2" cy="502.2" r="1.75"/><circle cx="109.0" cy="499.8" r="1.75"/><circle cx="106.5" cy="503.2" r="1.75"/><circle cx="109.0" cy="505.4" r="1.75"/><circle cx="113.4" cy="506.0" r="1.75"/><circle cx="115.9" cy="502.2" r="1.75"/><circle cx="121.5" cy="500.4" r="1.75"/><circle cx="124.0" cy="499.8" r="1.75"/><circle cx="129.0" cy="499.1" r="1.75"/><circle cx="130.2" cy="501.6" r="1.75"/><circle cx="132.8" cy="501.0" r="1.75"/><circle cx="125.2" cy="502.9" r="1.75"/><circle cx="128.4" cy="503.5" r="1.75"/><circle cx="125.9" cy="506.0" r="1.75"/><circle cx="130.9" cy="505.4" r="1.75"/><circle cx="134.0" cy="504.8" r="1.75"/><circle cx="137.1" cy="503.5" r="1.75"/><circle cx="140.9" cy="502.9" r="1.75"/><circle cx="144.6" cy="504.8" r="1.75"/><circle cx="147.8" cy="502.9" r="1.75"/><circle cx="161.5" cy="506.0" r="1.75"/><circle cx="132.8" cy="508.5" r="1.75"/><circle cx="136.5" cy="509.8" r="1.75"/><circle cx="139.6" cy="510.4" r="1.75"/><circle cx="124.0" cy="510.4" r="1.75"/><circle cx="115.9" cy="510.4" r="1.75"/><circle cx="166.5" cy="509.8" r="1.75"/><circle cx="150.2" cy="512.5" r="1.75"/><circle cx="154.0" cy="512.9" r="1.75"/><circle cx="105.9" cy="516.6" r="1.75"/><circle cx="109.0" cy="515.4" r="1.75"/><circle cx="111.5" cy="514.1" r="1.75"/><circle cx="114.0" cy="513.5" r="1.75"/><circle cx="117.8" cy="513.5" r="1.75"/><circle cx="120.2" cy="514.8" r="1.75"/><circle cx="122.8" cy="517.2" r="1.75"/><circle cx="122.1" cy="519.1" r="1.75"/><circle cx="130.2" cy="514.1" r="1.75"/><circle cx="114.6" cy="519.5" r="1.75"/><circle cx="107.8" cy="517.2" r="1.75"/><circle cx="170.0" cy="470.4" r="1.75"/><circle cx="170.9" cy="476.0" r="1.75"/><circle cx="170.2" cy="480.8" r="1.75"/><circle cx="180.0" cy="480.4" r="1.75"/><circle cx="187.5" cy="478.5" r="1.75"/><circle cx="186.2" cy="484.5" r="1.75"/><circle cx="191.5" cy="484.1" r="1.75"/><circle cx="174.6" cy="500.8" r="1.75"/><circle cx="171.2" cy="503.5" r="1.75"/><circle cx="178.8" cy="504.5" r="1.75"/><circle cx="182.1" cy="509.1" r="1.75"/><circle cx="104.7" cy="478.5" r="1.75"/></g>
</g>
<g id="pf">
<path d="M322.00,450.60 L327.93,452.39 L333.87,454.17 L339.80,455.95 L345.73,457.72 L351.67,459.48 L357.60,461.23 L363.53,462.97 L369.47,464.69 L375.40,466.40 L381.33,468.08 L387.27,469.73 L393.20,471.34 L399.13,472.91 L405.07,474.43 L411.00,475.89 L416.93,477.28 L422.87,478.59 L428.80,479.84 L434.73,481.02 L440.67,482.14 L446.60,483.22 L452.53,484.25 L458.47,485.25 L464.40,486.22 L470.33,487.17 L476.27,488.10 L482.20,489.01 L488.13,489.92 L494.07,490.81 L500.00,491.70 L500.00,507.10 L494.07,505.33 L488.13,503.56 L482.20,501.81 L476.27,500.06 L470.33,498.33 L464.40,496.62 L458.47,494.93 L452.53,493.27 L446.60,491.64 L440.67,490.06 L434.73,488.52 L428.80,487.04 L422.87,485.63 L416.93,484.28 L411.00,483.01 L405.07,481.81 L399.13,480.67 L393.20,479.58 L387.27,478.53 L381.33,477.52 L375.40,476.54 L369.47,475.59 L363.53,474.65 L357.60,473.73 L351.67,472.82 L345.73,471.92 L339.80,471.03 L333.87,470.15 L327.93,469.27 L322.00,468.40Z" fill="#b0b0b0"/>
<line x1="322" y1="459.5" x2="500" y2="498.9" stroke="#303030" stroke-width="0.9"/>
<path d="M310.4,398.7 V528.8 M309.5,528.8 H510" stroke="#858585" stroke-width="0.9" fill="none"/>
<line x1="307.4" y1="521.7" x2="310.4" y2="521.7" stroke="#858585" stroke-width="0.9"/>
<text transform="translate(304.79999999999995,524.6) scale(0.83,1)" font-size="8.6" fill="#1a1a1a" text-anchor="end">0</text>
<line x1="307.4" y1="495.2" x2="310.4" y2="495.2" stroke="#858585" stroke-width="0.9"/>
<text transform="translate(304.79999999999995,498.09999999999997) scale(0.83,1)" font-size="8.6" fill="#1a1a1a" text-anchor="end">2</text>
<line x1="307.4" y1="468.7" x2="310.4" y2="468.7" stroke="#858585" stroke-width="0.9"/>
<text transform="translate(304.79999999999995,471.59999999999997) scale(0.83,1)" font-size="8.6" fill="#1a1a1a" text-anchor="end">4</text>
<line x1="307.4" y1="442.5" x2="310.4" y2="442.5" stroke="#858585" stroke-width="0.9"/>
<text transform="translate(304.79999999999995,445.4) scale(0.83,1)" font-size="8.6" fill="#1a1a1a" text-anchor="end">6</text>
<line x1="307.4" y1="416" x2="310.4" y2="416" stroke="#858585" stroke-width="0.9"/>
<text transform="translate(304.79999999999995,418.9) scale(0.83,1)" font-size="8.6" fill="#1a1a1a" text-anchor="end">8</text>
<line x1="320.8" y1="528.8" x2="320.8" y2="531.8" stroke="#858585" stroke-width="0.9"/>
<text transform="translate(320.8,541.6999999999999) scale(0.83,1)" font-size="8.6" fill="#1a1a1a" text-anchor="middle">0</text>
<line x1="366.8" y1="528.8" x2="366.8" y2="531.8" stroke="#858585" stroke-width="0.9"/>
<text transform="translate(366.8,541.6999999999999) scale(0.83,1)" font-size="8.6" fill="#1a1a1a" text-anchor="middle">0.01</text>
<line x1="411.5" y1="528.8" x2="411.5" y2="531.8" stroke="#858585" stroke-width="0.9"/>
<text transform="translate(411.5,541.6999999999999) scale(0.83,1)" font-size="8.6" fill="#1a1a1a" text-anchor="middle">0.02</text>
<line x1="456.7" y1="528.8" x2="456.7" y2="531.8" stroke="#858585" stroke-width="0.9"/>
<text transform="translate(456.7,541.6999999999999) scale(0.83,1)" font-size="8.6" fill="#1a1a1a" text-anchor="middle">0.03</text>
<line x1="502.4" y1="528.8" x2="502.4" y2="531.8" stroke="#858585" stroke-width="0.9"/>
<text transform="translate(502.4,541.6999999999999) scale(0.83,1)" font-size="8.6" fill="#1a1a1a" text-anchor="middle">0.04</text>
<text x="398.7" y="554" font-size="8.2" fill="#1a1a1a" textLength="27.2" lengthAdjust="spacingAndGlyphs">1/FLOP3</text>
<text x="286.5" y="553.5" font-size="8.5" font-weight="bold" fill="#111">f</text>
<text transform="translate(291.7,512.1) rotate(-90)" font-size="8.3" fill="#1a1a1a" textLength="96.4" lengthAdjust="spacingAndGlyphs">log urine albumin (mg/24 h)</text>
<text x="474.1" y="405.6" font-size="7.3" fill="#1a1a1a" textLength="38.4" lengthAdjust="spacingAndGlyphs">r = –0.2462</text>
<text x="474.1" y="415.4" font-size="7.3" fill="#1a1a1a" textLength="35" lengthAdjust="spacingAndGlyphs">p &lt; 0.0001</text>
<g fill="#000"><circle cx="378.8" cy="404.5" r="1.75"/><circle cx="376.5" cy="421.6" r="1.75"/><circle cx="366.2" cy="426.2" r="1.75"/><circle cx="372.1" cy="427.0" r="1.75"/><circle cx="364.2" cy="432.9" r="1.75"/><circle cx="359.6" cy="435.8" r="1.75"/><circle cx="363.0" cy="436.6" r="1.75"/><circle cx="375.0" cy="438.5" r="1.75"/><circle cx="377.5" cy="443.0" r="1.75"/><circle cx="322.1" cy="446.6" r="1.75"/><circle cx="378.0" cy="456.6" r="1.75"/><circle cx="373.8" cy="463.5" r="1.75"/><circle cx="381.8" cy="423.8" r="1.75"/><circle cx="387.5" cy="423.8" r="1.75"/><circle cx="391.5" cy="426.2" r="1.75"/><circle cx="393.8" cy="425.4" r="1.75"/><circle cx="381.5" cy="430.8" r="1.75"/><circle cx="385.0" cy="432.2" r="1.75"/><circle cx="401.5" cy="426.0" r="1.75"/><circle cx="404.6" cy="424.1" r="1.75"/><circle cx="407.8" cy="422.9" r="1.75"/><circle cx="405.5" cy="427.2" r="1.75"/><circle cx="399.0" cy="429.5" r="1.75"/><circle cx="400.2" cy="430.8" r="1.75"/><circle cx="400.9" cy="432.9" r="1.75"/><circle cx="397.8" cy="435.4" r="1.75"/><circle cx="394.0" cy="437.2" r="1.75"/><circle cx="404.6" cy="431.2" r="1.75"/><circle cx="412.1" cy="426.2" r="1.75"/><circle cx="417.1" cy="420.8" r="1.75"/><circle cx="420.9" cy="422.5" r="1.75"/><circle cx="423.4" cy="422.5" r="1.75"/><circle cx="439.2" cy="427.2" r="1.75"/><circle cx="415.2" cy="432.9" r="1.75"/><circle cx="415.0" cy="435.8" r="1.75"/><circle cx="428.0" cy="433.5" r="1.75"/><circle cx="430.2" cy="434.1" r="1.75"/><circle cx="429.0" cy="435.8" r="1.75"/><circle cx="438.4" cy="436.6" r="1.75"/><circle cx="431.5" cy="439.1" r="1.75"/><circle cx="429.0" cy="440.4" r="1.75"/><circle cx="422.8" cy="441.0" r="1.75"/><circle cx="422.8" cy="443.2" r="1.75"/><circle cx="401.5" cy="440.8" r="1.75"/><circle cx="408.4" cy="440.4" r="1.75"/><circle cx="411.8" cy="442.5" r="1.75"/><circle cx="412.5" cy="445.4" r="1.75"/><circle cx="415.2" cy="443.5" r="1.75"/><circle cx="417.8" cy="445.4" r="1.75"/><circle cx="419.0" cy="447.5" r="1.75"/><circle cx="439.6" cy="443.5" r="1.75"/><circle cx="403.4" cy="446.0" r="1.75"/><circle cx="404.6" cy="449.5" r="1.75"/><circle cx="431.5" cy="446.6" r="1.75"/><circle cx="434.6" cy="450.0" r="1.75"/><circle cx="428.0" cy="452.5" r="1.75"/><circle cx="383.0" cy="449.1" r="1.75"/><circle cx="381.2" cy="452.2" r="1.75"/><circle cx="390.9" cy="451.0" r="1.75"/><circle cx="397.1" cy="451.0" r="1.75"/><circle cx="394.6" cy="453.5" r="1.75"/><circle cx="390.9" cy="455.8" r="1.75"/><circle cx="395.2" cy="457.5" r="1.75"/><circle cx="391.2" cy="460.4" r="1.75"/><circle cx="383.8" cy="460.0" r="1.75"/><circle cx="400.0" cy="459.5" r="1.75"/><circle cx="411.8" cy="458.2" r="1.75"/><circle cx="417.8" cy="458.2" r="1.75"/><circle cx="412.1" cy="461.0" r="1.75"/><circle cx="406.5" cy="462.9" r="1.75"/><circle cx="428.4" cy="461.2" r="1.75"/><circle cx="428.4" cy="463.5" r="1.75"/><circle cx="446.8" cy="424.5" r="1.75"/><circle cx="459.2" cy="421.0" r="1.75"/><circle cx="455.2" cy="442.5" r="1.75"/><circle cx="457.5" cy="460.8" r="1.75"/><circle cx="352.8" cy="464.6" r="1.75"/><circle cx="373.4" cy="467.8" r="1.75"/><circle cx="359.2" cy="471.8" r="1.75"/><circle cx="377.8" cy="477.1" r="1.75"/><circle cx="377.8" cy="481.5" r="1.75"/><circle cx="377.1" cy="485.2" r="1.75"/><circle cx="326.5" cy="490.9" r="1.75"/><circle cx="323.8" cy="500.9" r="1.75"/><circle cx="341.5" cy="499.6" r="1.75"/><circle cx="349.6" cy="494.6" r="1.75"/><circle cx="354.2" cy="490.0" r="1.75"/><circle cx="364.0" cy="491.8" r="1.75"/><circle cx="378.4" cy="495.2" r="1.75"/><circle cx="378.0" cy="501.2" r="1.75"/><circle cx="368.0" cy="506.2" r="1.75"/><circle cx="370.5" cy="510.9" r="1.75"/><circle cx="377.1" cy="508.4" r="1.75"/><circle cx="395.2" cy="464.6" r="1.75"/><circle cx="420.2" cy="465.9" r="1.75"/><circle cx="386.5" cy="469.2" r="1.75"/><circle cx="380.2" cy="469.6" r="1.75"/><circle cx="409.0" cy="464.6" r="1.75"/><circle cx="414.6" cy="464.6" r="1.75"/><circle cx="405.2" cy="470.2" r="1.75"/><circle cx="404.6" cy="473.4" r="1.75"/><circle cx="400.2" cy="473.4" r="1.75"/><circle cx="422.1" cy="470.5" r="1.75"/><circle cx="429.0" cy="470.2" r="1.75"/><circle cx="432.8" cy="470.9" r="1.75"/><circle cx="436.5" cy="474.0" r="1.75"/><circle cx="434.0" cy="475.9" r="1.75"/><circle cx="440.2" cy="475.9" r="1.75"/><circle cx="442.8" cy="476.5" r="1.75"/><circle cx="410.2" cy="477.1" r="1.75"/><circle cx="415.2" cy="477.8" r="1.75"/><circle cx="419.0" cy="476.5" r="1.75"/><circle cx="425.2" cy="479.0" r="1.75"/><circle cx="426.5" cy="481.5" r="1.75"/><circle cx="430.2" cy="484.0" r="1.75"/><circle cx="434.0" cy="482.8" r="1.75"/><circle cx="436.5" cy="481.5" r="1.75"/><circle cx="440.2" cy="480.2" r="1.75"/><circle cx="441.5" cy="483.4" r="1.75"/><circle cx="443.8" cy="485.2" r="1.75"/><circle cx="400.9" cy="478.4" r="1.75"/><circle cx="405.9" cy="480.9" r="1.75"/><circle cx="409.0" cy="480.2" r="1.75"/><circle cx="412.8" cy="481.5" r="1.75"/><circle cx="411.5" cy="484.0" r="1.75"/><circle cx="416.5" cy="482.8" r="1.75"/><circle cx="420.2" cy="484.0" r="1.75"/><circle cx="408.4" cy="484.6" r="1.75"/><circle cx="384.0" cy="483.4" r="1.75"/><circle cx="387.1" cy="482.8" r="1.75"/><circle cx="390.2" cy="484.0" r="1.75"/><circle cx="382.8" cy="486.5" r="1.75"/><circle cx="391.5" cy="486.5" r="1.75"/><circle cx="395.9" cy="482.8" r="1.75"/><circle cx="399.0" cy="483.4" r="1.75"/><circle cx="401.5" cy="484.0" r="1.75"/><circle cx="405.2" cy="485.2" r="1.75"/><circle cx="387.8" cy="489.6" r="1.75"/><circle cx="389.0" cy="491.5" r="1.75"/><circle cx="397.8" cy="487.8" r="1.75"/><circle cx="400.2" cy="489.6" r="1.75"/><circle cx="403.4" cy="490.2" r="1.75"/><circle cx="407.8" cy="489.0" r="1.75"/><circle cx="410.2" cy="490.9" r="1.75"/><circle cx="416.5" cy="490.2" r="1.75"/><circle cx="419.0" cy="490.9" r="1.75"/><circle cx="421.5" cy="488.4" r="1.75"/><circle cx="426.5" cy="487.1" r="1.75"/><circle cx="429.0" cy="488.4" r="1.75"/><circle cx="431.5" cy="490.9" r="1.75"/><circle cx="434.6" cy="490.2" r="1.75"/><circle cx="437.8" cy="487.8" r="1.75"/><circle cx="441.5" cy="489.0" r="1.75"/><circle cx="385.2" cy="495.9" r="1.75"/><circle cx="390.2" cy="496.5" r="1.75"/><circle cx="394.0" cy="494.0" r="1.75"/><circle cx="397.8" cy="494.6" r="1.75"/><circle cx="402.8" cy="495.9" r="1.75"/><circle cx="405.9" cy="494.6" r="1.75"/><circle cx="409.0" cy="494.0" r="1.75"/><circle cx="412.1" cy="493.4" r="1.75"/><circle cx="415.2" cy="494.6" r="1.75"/><circle cx="417.8" cy="494.0" r="1.75"/><circle cx="422.1" cy="495.2" r="1.75"/><circle cx="427.1" cy="494.0" r="1.75"/><circle cx="430.2" cy="496.5" r="1.75"/><circle cx="434.0" cy="495.9" r="1.75"/><circle cx="437.8" cy="495.2" r="1.75"/><circle cx="441.5" cy="494.6" r="1.75"/><circle cx="380.2" cy="500.9" r="1.75"/><circle cx="387.8" cy="500.9" r="1.75"/><circle cx="391.5" cy="499.0" r="1.75"/><circle cx="392.8" cy="501.5" r="1.75"/><circle cx="394.6" cy="500.2" r="1.75"/><circle cx="396.5" cy="501.5" r="1.75"/><circle cx="399.0" cy="501.5" r="1.75"/><circle cx="402.8" cy="498.4" r="1.75"/><circle cx="405.2" cy="499.6" r="1.75"/><circle cx="405.2" cy="502.8" r="1.75"/><circle cx="407.1" cy="501.5" r="1.75"/><circle cx="409.0" cy="499.6" r="1.75"/><circle cx="411.5" cy="499.0" r="1.75"/><circle cx="413.4" cy="501.5" r="1.75"/><circle cx="416.5" cy="497.8" r="1.75"/><circle cx="419.0" cy="500.2" r="1.75"/><circle cx="422.1" cy="499.0" r="1.75"/><circle cx="425.2" cy="499.0" r="1.75"/><circle cx="428.4" cy="500.2" r="1.75"/><circle cx="431.5" cy="499.0" r="1.75"/><circle cx="434.0" cy="500.9" r="1.75"/><circle cx="437.1" cy="499.6" r="1.75"/><circle cx="440.9" cy="499.0" r="1.75"/><circle cx="442.8" cy="497.8" r="1.75"/><circle cx="382.8" cy="507.1" r="1.75"/><circle cx="392.1" cy="504.6" r="1.75"/><circle cx="395.2" cy="505.2" r="1.75"/><circle cx="391.5" cy="507.8" r="1.75"/><circle cx="397.8" cy="508.4" r="1.75"/><circle cx="405.9" cy="505.2" r="1.75"/><circle cx="407.8" cy="507.1" r="1.75"/><circle cx="412.8" cy="507.8" r="1.75"/><circle cx="415.2" cy="504.6" r="1.75"/><circle cx="419.0" cy="503.4" r="1.75"/><circle cx="421.5" cy="507.1" r="1.75"/><circle cx="424.0" cy="504.0" r="1.75"/><circle cx="427.8" cy="504.0" r="1.75"/><circle cx="431.5" cy="506.5" r="1.75"/><circle cx="436.5" cy="505.2" r="1.75"/><circle cx="439.0" cy="504.6" r="1.75"/><circle cx="441.5" cy="503.4" r="1.75"/><circle cx="389.6" cy="511.5" r="1.75"/><circle cx="390.9" cy="513.4" r="1.75"/><circle cx="394.6" cy="513.0" r="1.75"/><circle cx="426.5" cy="512.1" r="1.75"/><circle cx="430.2" cy="512.1" r="1.75"/><circle cx="437.8" cy="510.2" r="1.75"/><circle cx="437.8" cy="512.8" r="1.75"/><circle cx="416.2" cy="515.0" r="1.75"/><circle cx="424.6" cy="519.0" r="1.75"/><circle cx="449.2" cy="469.2" r="1.75"/><circle cx="445.9" cy="473.8" r="1.75"/><circle cx="453.8" cy="473.4" r="1.75"/><circle cx="450.9" cy="478.0" r="1.75"/><circle cx="462.8" cy="469.2" r="1.75"/><circle cx="465.2" cy="468.8" r="1.75"/><circle cx="468.0" cy="473.0" r="1.75"/><circle cx="461.8" cy="485.0" r="1.75"/><circle cx="445.9" cy="487.1" r="1.75"/><circle cx="447.8" cy="489.6" r="1.75"/><circle cx="449.6" cy="491.5" r="1.75"/><circle cx="446.5" cy="492.8" r="1.75"/><circle cx="454.0" cy="489.6" r="1.75"/><circle cx="460.2" cy="490.9" r="1.75"/><circle cx="464.0" cy="492.5" r="1.75"/><circle cx="470.2" cy="489.6" r="1.75"/><circle cx="470.9" cy="492.1" r="1.75"/><circle cx="459.6" cy="494.6" r="1.75"/><circle cx="469.0" cy="497.1" r="1.75"/><circle cx="470.9" cy="496.2" r="1.75"/><circle cx="447.1" cy="497.1" r="1.75"/><circle cx="455.2" cy="498.4" r="1.75"/><circle cx="462.8" cy="498.0" r="1.75"/><circle cx="464.0" cy="497.1" r="1.75"/><circle cx="447.8" cy="501.5" r="1.75"/><circle cx="450.2" cy="501.5" r="1.75"/><circle cx="454.0" cy="502.8" r="1.75"/><circle cx="454.6" cy="504.6" r="1.75"/><circle cx="447.8" cy="504.6" r="1.75"/><circle cx="460.2" cy="500.9" r="1.75"/><circle cx="460.9" cy="502.8" r="1.75"/><circle cx="467.1" cy="501.2" r="1.75"/><circle cx="467.1" cy="505.2" r="1.75"/><circle cx="469.6" cy="504.6" r="1.75"/><circle cx="474.6" cy="503.8" r="1.75"/><circle cx="490.2" cy="503.0" r="1.75"/><circle cx="500.0" cy="498.4" r="1.75"/><circle cx="448.4" cy="510.0" r="1.75"/><circle cx="454.2" cy="511.2" r="1.75"/><circle cx="459.6" cy="511.2" r="1.75"/><circle cx="469.6" cy="510.5" r="1.75"/><circle cx="444.6" cy="515.9" r="1.75"/><circle cx="459.0" cy="517.8" r="1.75"/></g>
</g>
</svg></body></html>
